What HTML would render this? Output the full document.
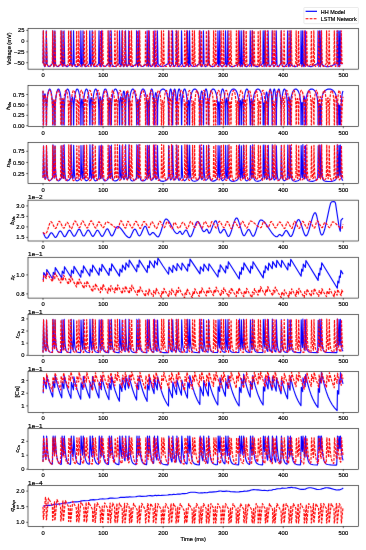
<!DOCTYPE html>
<html><head><meta charset="utf-8"><title>HH vs LSTM</title>
<style>html,body{margin:0;padding:0;background:#fff;width:366px;height:550px;overflow:hidden}svg{display:block}</style>
</head><body>
<svg width="366" height="550" viewBox="0 0 366 550">
<rect width="366" height="550" fill="#fff"/>
<defs><filter id="bl" x="0" y="0" width="366" height="550" filterUnits="userSpaceOnUse"><feConvolveMatrix order="3" kernelMatrix="0.0028 0.0470 0.0028 0.0470 0.8008 0.0470 0.0028 0.0470 0.0028" edgeMode="duplicate"/></filter>
<clipPath id="c0"><rect x="28.00" y="28.30" width="330.30" height="40.85"/></clipPath>
<clipPath id="c1"><rect x="28.00" y="85.60" width="330.30" height="40.85"/></clipPath>
<clipPath id="c2"><rect x="28.00" y="142.60" width="330.30" height="40.85"/></clipPath>
<clipPath id="c3"><rect x="28.00" y="200.15" width="330.30" height="40.85"/></clipPath>
<clipPath id="c4"><rect x="28.00" y="257.25" width="330.30" height="40.85"/></clipPath>
<clipPath id="c5"><rect x="28.00" y="314.40" width="330.30" height="40.85"/></clipPath>
<clipPath id="c6"><rect x="28.00" y="371.45" width="330.30" height="40.85"/></clipPath>
<clipPath id="c7"><rect x="28.00" y="428.45" width="330.30" height="40.85"/></clipPath>
<clipPath id="c8"><rect x="28.00" y="485.50" width="330.30" height="40.85"/></clipPath>
</defs>
<g filter="url(#bl)"><g clip-path="url(#c0)" fill="none" stroke-width="1.15" stroke-linejoin="round">
<path stroke="#0000ff" d="M43.01 63.38l0.30 -32.55l0.72 33.02l0.30 2.00l0.21 0.55l0.21 0.16l0.24 -0.18l0.24 -0.46l0.75 -2.33l0.33 -32.78l0.75 33.07l0.36 1.13l0.51 0.89l0.57 0.51l0.63 0.14l0.66 -0.21l0.72 -0.54l1.98 -2.32l0.36 -32.66l0.66 32.88l0.21 2.51l0.12 0.34l0.15 -0.16l0.51 -3.47l0.36 -32.10l0.69 33.04l0.36 1.08l0.57 0.94l0.63 0.53l0.69 0.15l0.69 -0.19l0.75 -0.49l2.22 -2.30l0.39 -32.75l0.66 33.08l0.21 2.14l0.15 0.48l0.15 -0.02l0.66 -3.02l0.36 -32.66l0.69 32.98l0.36 1.11l0.57 0.96l0.63 0.54l0.69 0.16l0.69 -0.19l0.78 -0.52l2.22 -2.31l0.30 -32.60l0.09 -0.13l0.63 32.69l0.27 2.50l0.18 0.49l0.21 -0.01l0.33 -0.85l0.48 -2.06l0.39 -32.77l0.66 32.91l0.27 0.90l0.42 0.83l0.48 0.60l0.54 0.38l0.54 0.13l0.60 -0.09l1.35 -0.84l2.04 -2.07l0.39 -32.74l0.66 33.23l0.18 1.86l0.12 0.50l0.15 0.14l0.33 -0.95l0.39 -2.45l0.36 -32.34l0.66 32.84l0.51 1.55l0.81 1.06l0.45 0.24l0.45 0.05l1.02 -0.41l0.99 -0.87l1.53 -1.72l0.30 -32.19l0.09 -0.55l0.63 32.57l0.21 2.39l0.18 0.67l0.18 0.10l0.33 -0.80l0.48 -2.19l0.30 -32.50l0.09 -0.24l0.66 32.96l0.48 1.41l0.75 1.03l0.84 0.35l0.93 -0.27l1.08 -0.88l1.65 -1.84l0.39 -32.75l0.66 33.10l0.24 2.02l0.15 0.48l0.18 0.13l0.39 -0.86l0.51 -2.39l0.36 -32.49l0.66 32.81l0.51 1.46l0.84 1.08l0.93 0.39l1.05 -0.24l1.23 -0.87l1.89 -1.88l0.39 -32.75l0.66 33.15l0.18 1.92l0.12 0.52l0.15 0.15l0.30 -0.80l0.42 -2.39l0.36 -32.55l0.66 32.79l0.57 1.47l0.93 1.08l0.51 0.28l0.54 0.12l1.17 -0.23l1.38 -0.86l2.16 -1.91l0.39 -32.74l0.63 32.44l0.21 2.41l0.18 0.71l0.21 0.17l0.24 -0.41l0.27 -0.94l0.36 -1.59l0.03 -0.75l0.36 -32.04l0.66 33.00l0.42 2.15l0.27 0.49l0.30 0.09l0.57 -0.73l0.90 -2.27l0.30 -32.53l0.09 -0.20l0.63 32.67l0.36 2.35l0.27 0.60l0.30 0.11l0.54 -0.77l0.81 -2.26l0.36 -32.70l0.66 32.76l0.48 1.39l0.84 1.11l0.93 0.47l1.02 -0.11l1.41 -0.85l2.19 -2.03l0.30 -32.55l0.09 -0.18l0.63 32.68l0.15 2.18l0.12 0.67l0.15 0.21l0.27 -0.75l0.39 -2.27l0.36 -32.72l0.66 32.74l0.51 1.39l0.87 1.09l0.99 0.49l1.08 -0.08l1.53 -0.84l2.37 -2.04l0.39 -32.75l0.66 33.07l0.15 1.98l0.21 0.69l0.39 -1.53l0.24 -2.45l0.36 -31.76l0.66 32.96l0.27 1.22l0.42 0.98l0.45 0.49l0.51 0.06l0.45 -0.27l0.54 -0.61l1.32 -2.24l0.36 -32.59l0.66 32.86l0.36 2.23l0.24 0.53l0.27 0.11l0.51 -0.73l0.78 -2.23l0.39 -32.77l0.66 32.84l0.27 0.66l0.48 0.71l1.26 1.08l1.38 0.43l1.53 -0.14l2.04 -0.85l3.18 -2.00l0.39 -32.74l0.66 32.99l0.48 2.10l0.33 0.53l0.36 0.11l0.33 -0.22l0.36 -0.49l1.08 -2.25l0.39 -32.77l0.66 32.92l0.51 2.19l0.33 0.51l0.39 0.11l0.33 -0.22l0.39 -0.52l1.11 -2.25l0.30 -32.04l0.09 -0.70l0.66 33.01l0.27 1.21l0.39 0.93l0.42 0.49l0.48 0.09l0.42 -0.23l0.48 -0.52l1.38 -2.23l0.39 -32.75l0.66 32.93l0.33 1.22l0.51 0.98l0.57 0.52l0.63 0.08l0.54 -0.24l0.60 -0.51l1.77 -2.23l0.30 -32.02l0.09 -0.71l0.63 32.52l0.15 2.43l0.24 0.79l0.27 -0.91l0.33 -2.33l0.36 -32.49l0.66 32.79l0.63 1.33l1.08 1.08l1.20 0.50l1.32 -0.03l0.96 -0.30l1.05 -0.52l3.12 -2.11l0.30 -32.20l0.09 -0.53l0.63 32.57l0.36 2.34l0.27 0.63l0.33 0.20l0.33 -0.25l0.39 -0.70l0.78 -2.00l0.03 -0.42l0.36 -32.37l0.66 32.87l0.24 1.18l0.42 1.05l0.45 0.53l0.48 0.10l0.45 -0.23l0.48 -0.50l1.44 -2.26l0.39 -32.74l0.66 32.89l0.57 1.26l0.93 1.03l1.02 0.50l1.14 0.02l0.90 -0.28l0.99 -0.53l2.88 -2.14l0.39 -32.74l0.66 33.26l0.12 1.86l0.15 0.63l0.24 -0.93l0.27 -2.71l0.36 -32.11l0.66 32.89l0.30 1.20l0.48 0.99l0.54 0.54l0.60 0.11l0.51 -0.22l0.60 -0.52l1.71 -2.23l0.39 -32.76l0.66 33.04l0.21 2.08l0.27 0.62l0.30 -0.65l0.48 -2.32l0.39 -32.77l0.66 32.86l0.72 1.31l1.14 1.02l1.29 0.50l1.41 0.00l1.11 -0.30l1.26 -0.56l3.42 -2.14l0.36 -32.68l0.66 32.85l0.15 2.15l0.21 0.74l0.33 -1.13l0.30 -2.48l0.36 -32.14l0.66 33.15l0.18 1.92l0.24 0.68l0.33 -0.81l0.42 -2.40l0.36 -32.54l0.66 32.80l0.36 1.24l0.60 1.03l0.69 0.56l0.75 0.10l0.66 -0.25l0.72 -0.52l2.07 -2.21l0.39 -32.75l0.66 33.11l0.18 1.95l0.24 0.69l0.30 -0.67l0.45 -2.46l0.36 -32.61l0.66 32.77l0.60 1.27l1.05 1.07l1.17 0.54l1.32 0.05l1.02 -0.26l1.17 -0.54l3.33 -2.17l0.39 -32.73l0.63 32.47l0.09 2.26l0.18 1.01l0.42 -3.18l0.36 -32.56l0.66 32.87l0.36 2.17l0.24 0.54l0.27 0.16l0.30 -0.24l0.36 -0.70l0.72 -2.01l0.03 -0.37l0.36 -32.42l0.66 32.88l0.45 2.11l0.33 0.59l0.36 0.16l0.36 -0.21l0.39 -0.54l1.08 -2.31l0.36 -32.69l0.66 32.78l0.48 2.23l0.33 0.57l0.39 0.16l0.36 -0.21l0.39 -0.52l1.11 -2.25l0.39 -32.76l0.66 32.93l0.24 1.16l0.39 0.99l0.42 0.53l0.45 0.13l0.45 -0.21l0.48 -0.50l1.41 -2.26l0.39 -32.76l0.66 32.85l0.33 1.19l0.57 1.04l0.60 0.53l0.69 0.12l0.60 -0.22l0.69 -0.52l1.98 -2.26l0.30 -32.16l0.09 -0.57l0.63 32.56l0.21 2.31l0.18 0.70l0.18 0.17l0.36 -0.70l0.54 -2.26l0.39 -32.78l0.66 32.85l0.63 1.24l1.05 1.03l1.17 0.53l1.29 0.06l1.05 -0.25l1.20 -0.53l3.45 -2.20l0.39 -32.74l0.66 33.47l0.24 2.27l0.42 -3.01l0.30 -32.69l0.09 -0.05l0.63 32.72l0.24 2.26l0.18 0.61l0.18 0.16l0.21 -0.24l0.27 -0.76l0.48 -1.94l0.03 -0.58l0.36 -32.23l0.66 32.81l0.75 1.28l1.26 1.05l1.41 0.53l1.56 0.04l1.23 -0.26l1.41 -0.53l4.02 -2.17l0.39 -32.74l0.66 33.41l0.21 2.33l0.36 -3.17l0.36 -32.57l0.66 33.12l0.18 2.62l0.30 -3.23l0.36 -32.51l0.66 32.77l0.33 0.62l0.63 0.68l0.81 0.61l0.90 0.48l1.86 0.52l2.10 0.01l1.59 -0.29l1.77 -0.54l5.07 -2.15l0.36 -32.71l0.66 32.84l0.21 2.90l0.24 -1.56l0.15 -2.58l0.36 -31.60l0.39 21.96l0.39 13.79l0.24 -3.12l0.36 -32.62l0.66 32.73l2.16 0.00"/>
<path stroke="#ff0000" stroke-dasharray="2.82 1.22" d="M43.01 63.38l0.30 -32.55l0.72 33.02l0.30 2.00l0.21 0.55l0.21 0.16l0.24 -0.18l0.24 -0.46l0.75 -2.33l0.33 -32.78l0.75 33.08l0.33 1.09l0.51 0.93l0.54 0.50l0.60 0.14l0.60 -0.19l0.69 -0.52l1.95 -2.30l0.39 -32.74l0.66 33.32l0.27 2.21l0.15 0.22l0.18 -0.29l0.54 -2.64l0.03 -0.72l0.36 -32.10l0.69 33.08l0.33 1.13l0.45 0.87l0.51 0.51l0.57 0.15l0.57 -0.19l0.63 -0.50l1.86 -2.32l0.39 -32.74l0.66 33.21l0.27 2.14l0.18 0.38l0.18 -0.11l0.72 -2.85l0.39 -32.77l0.66 32.96l0.51 1.75l0.33 0.56l0.39 0.36l0.39 0.10l0.42 -0.12l0.96 -0.91l1.35 -1.98l0.30 -32.29l0.09 -0.44l0.63 32.60l0.15 2.36l0.12 0.64l0.15 0.10l0.27 -1.06l0.30 -2.24l0.36 -32.40l0.66 32.84l0.48 1.64l0.36 0.63l0.42 0.44l0.42 0.18l0.42 -0.02l0.99 -0.64l1.86 -2.31l0.39 -32.75l0.66 33.16l0.21 2.08l0.12 0.42l0.15 0.06l0.30 -0.91l0.39 -2.28l0.36 -32.52l0.66 32.83l0.36 1.51l0.57 1.06l0.63 0.35l0.69 -0.28l0.78 -0.86l1.23 -1.86l0.39 -32.74l0.63 32.35l0.21 2.57l0.18 0.69l0.18 0.11l0.33 -0.78l0.48 -2.18l0.39 -32.76l0.66 32.94l0.45 1.44l0.69 1.02l0.75 0.34l0.87 -0.28l0.96 -0.86l1.53 -1.87l0.30 -32.57l0.09 -0.16l0.63 32.68l0.21 2.38l0.15 0.57l0.15 0.11l0.39 -1.10l0.39 -2.35l0.36 -32.29l0.66 32.87l0.33 1.37l0.51 1.02l0.57 0.45l0.66 -0.10l0.90 -0.85l1.38 -2.01l0.39 -32.75l0.66 33.22l0.18 1.96l0.12 0.47l0.12 0.07l0.39 -1.46l0.27 -2.37l0.36 -31.90l0.66 32.93l0.33 1.33l0.51 1.01l0.54 0.43l0.63 -0.07l0.93 -0.85l1.41 -2.05l0.39 -32.74l0.63 32.43l0.21 2.43l0.18 0.71l0.21 0.17l0.24 -0.41l0.27 -0.94l0.36 -1.59l0.03 -0.73l0.36 -32.07l0.66 32.94l0.24 1.27l0.36 0.97l0.39 0.48l0.45 0.03l0.75 -0.79l1.17 -2.18l0.30 -32.58l0.09 -0.15l0.63 32.69l0.21 2.29l0.15 0.59l0.18 0.17l0.33 -0.71l0.51 -2.32l0.36 -32.71l0.66 32.76l0.27 1.32l0.45 1.05l0.51 0.54l0.60 0.03l0.93 -0.82l1.41 -2.13l0.30 -32.15l0.09 -0.59l0.63 32.56l0.24 2.48l0.18 0.60l0.18 0.10l0.36 -0.79l0.51 -2.16l0.39 -32.78l0.66 32.97l0.24 1.23l0.36 0.96l0.42 0.51l0.45 0.03l0.78 -0.79l1.20 -2.17l0.39 -32.75l0.63 32.41l0.15 2.52l0.24 0.82l0.24 -0.74l0.36 -2.39l0.36 -32.61l0.66 32.80l0.33 1.31l0.54 1.04l0.63 0.53l0.69 0.01l1.08 -0.80l1.68 -2.13l0.39 -32.76l0.66 33.05l0.18 1.99l0.27 0.70l0.30 -0.78l0.42 -2.26l0.36 -32.70l0.66 32.76l0.30 1.27l0.54 1.09l0.60 0.54l0.69 0.03l0.51 -0.28l0.57 -0.53l1.65 -2.14l0.39 -32.75l0.66 33.07l0.30 1.97l0.21 0.55l0.24 0.16l0.48 -0.71l0.72 -2.26l0.39 -32.77l0.66 32.97l0.27 1.26l0.39 0.95l0.42 0.48l0.48 0.06l0.42 -0.26l0.45 -0.52l1.32 -2.20l0.39 -32.74l0.63 32.48l0.21 2.47l0.15 0.61l0.18 0.19l0.33 -0.70l0.51 -2.30l0.30 -32.19l0.09 -0.56l0.66 32.98l0.33 1.24l0.48 0.94l0.54 0.49l0.60 0.05l0.51 -0.26l0.57 -0.54l1.62 -2.21l0.36 -32.70l0.66 32.81l0.18 2.28l0.24 0.65l0.27 -0.77l0.39 -2.33l0.36 -32.64l0.66 32.79l0.27 1.25l0.45 1.03l0.54 0.57l0.57 0.07l0.57 -0.33l0.63 -0.69l1.32 -1.93l0.03 -0.33l0.36 -32.43l0.66 32.98l0.24 2.12l0.15 0.50l0.18 0.14l0.36 -0.73l0.54 -2.28l0.36 -32.73l0.66 32.75l0.21 1.25l0.36 1.04l0.42 0.58l0.45 0.11l0.39 -0.22l0.45 -0.52l1.29 -2.25l0.30 -31.96l0.09 -0.78l0.63 32.50l0.15 2.33l0.27 0.91l0.27 -0.74l0.39 -2.25l0.30 -32.25l0.09 -0.51l0.66 32.95l0.39 1.25l0.57 0.95l0.66 0.51l0.72 0.05l0.63 -0.28l0.69 -0.56l1.89 -2.20l0.36 -32.67l0.66 32.88l0.12 1.99l0.21 0.87l0.21 -0.65l0.33 -2.32l0.30 -31.95l0.09 -0.83l0.66 32.96l0.33 1.23l0.48 0.94l0.54 0.51l0.60 0.08l0.51 -0.24l0.60 -0.53l1.68 -2.21l0.39 -32.75l0.63 32.29l0.15 2.61l0.24 0.84l0.24 -0.73l0.36 -2.31l0.36 -32.70l0.66 32.76l0.24 1.28l0.39 1.02l0.45 0.57l0.48 0.11l0.42 -0.22l0.48 -0.51l1.41 -2.27l0.30 -32.13l0.09 -0.61l0.63 32.55l0.15 2.29l0.27 0.91l0.27 -0.74l0.39 -2.26l0.30 -32.40l0.09 -0.34l0.63 32.63l0.18 1.15l0.42 1.18l0.48 0.64l0.51 0.13l0.45 -0.22l0.48 -0.50l1.44 -2.25l0.39 -32.76l0.66 33.07l0.21 1.97l0.30 0.70l0.21 -0.30l0.24 -0.82l0.39 -1.82l0.03 -0.70l0.36 -32.10l0.66 32.92l0.24 1.19l0.39 1.00l0.42 0.52l0.45 0.10l0.42 -0.22l0.48 -0.53l1.35 -2.23l0.39 -32.75l0.66 33.28l0.18 1.92l0.21 0.54l0.27 -0.71l0.39 -2.24l0.39 -32.79l0.66 32.95l0.27 1.15l0.45 1.01l0.48 0.52l0.54 0.11l0.48 -0.22l0.54 -0.51l1.59 -2.27l0.30 -32.10l0.09 -0.64l0.63 32.54l0.18 2.31l0.30 0.89l0.36 -0.83l0.45 -2.45l0.36 -32.46l0.66 32.84l0.27 1.20l0.45 1.02l0.51 0.56l0.57 0.12l0.51 -0.24l0.57 -0.54l1.59 -2.29l0.36 -32.66l0.66 32.88l0.15 2.13l0.21 0.74l0.33 -1.13l0.30 -2.51l0.36 -32.10l0.66 32.90l0.27 1.16l0.45 1.01l0.51 0.55l0.54 0.11l0.51 -0.23l0.54 -0.50l1.62 -2.25l0.39 -32.76l0.66 33.10l0.15 1.96l0.21 0.69l0.24 -0.68l0.36 -2.28l0.39 -32.79l0.66 32.95l0.27 1.13l0.45 1.00l0.51 0.55l0.54 0.11l0.51 -0.23l0.54 -0.50l1.62 -2.26l0.39 -32.75l0.66 33.17l0.21 1.98l0.27 0.59l0.30 -0.68l0.48 -2.33l0.30 -32.50l0.09 -0.24l0.63 32.66l0.24 1.19l0.51 1.14l0.57 0.61l0.63 0.14l0.54 -0.22l0.60 -0.50l1.77 -2.26l0.39 -32.75l0.66 33.20l0.15 1.89l0.21 0.65l0.24 -0.70l0.36 -2.28l0.30 -32.12l0.09 -0.64l0.63 32.54l0.12 1.13l0.33 1.25l0.36 0.65l0.39 0.17l0.42 -0.27l0.48 -0.71l0.96 -1.99l0.03 -0.40l0.36 -32.38l0.66 33.07l0.15 1.88l0.24 0.80l0.33 -0.95l0.36 -2.51l0.36 -32.28l0.66 32.88l0.24 1.15l0.42 1.04l0.45 0.54l0.48 0.13l0.45 -0.20l0.51 -0.50l1.50 -2.29l0.39 -32.75l0.66 33.25l0.15 1.85l0.21 0.64l0.24 -0.71l0.36 -2.29l0.30 -32.40l0.09 -0.35l0.63 32.63l0.21 1.18l0.48 1.18l0.51 0.60l0.57 0.15l0.51 -0.22l0.57 -0.52l1.62 -2.26l0.39 -32.74l0.63 32.42l0.15 2.51l0.24 0.81l0.24 -0.74l0.36 -2.40l0.36 -32.60l0.66 32.79l0.33 1.23l0.54 1.01l0.63 0.58l0.69 0.12l0.60 -0.22l0.69 -0.52l1.98 -2.26l0.39 -32.74l0.66 33.16l0.27 1.97l0.18 0.50l0.18 0.11l0.39 -0.66l0.63 -2.32l0.39 -32.76l0.66 32.99l0.24 1.11l0.39 0.97l0.42 0.53l0.48 0.14l0.51 -0.25l0.60 -0.66l1.29 -2.06l0.03 -0.30l0.36 -32.47l0.66 33.00l0.18 2.03l0.27 0.71l0.27 -0.65l0.45 -2.36l0.30 -32.63l0.09 -0.11l0.63 32.70l0.21 1.23l0.39 1.07l0.45 0.60l0.48 0.14l0.45 -0.22l0.48 -0.51l1.41 -2.27l0.39 -32.74l0.63 32.47l0.21 2.48l0.15 0.61l0.18 0.19l0.33 -0.70l0.51 -2.30l0.30 -32.17l0.09 -0.58l0.63 32.56l0.21 1.20l0.51 1.20l0.54 0.62l0.63 0.16l0.54 -0.21l0.60 -0.51l1.74 -2.27l0.39 -32.74l0.63 32.36l0.18 2.47l0.30 0.92l0.33 -0.70l0.48 -2.41l0.36 -32.64l0.66 32.80l0.21 1.18l0.36 1.02l0.42 0.59l0.45 0.14l0.42 -0.21l0.45 -0.49l1.35 -2.28l0.39 -32.75l0.66 33.15l0.24 1.98l0.30 0.61l0.21 -0.26l0.24 -0.73l0.48 -2.41l0.36 -32.35l0.66 32.87l0.24 1.18l0.39 0.99l0.42 0.54l0.48 0.16l0.45 -0.19l0.51 -0.51l1.47 -2.30l0.30 -31.93l0.09 -0.81l0.63 32.49l0.24 2.38l0.18 0.64l0.21 0.23l0.42 -0.68l0.63 -2.32l0.30 -32.28l0.09 -0.46l0.63 32.60l0.18 1.17l0.42 1.17l0.48 0.65l0.51 0.16l0.48 -0.21l0.51 -0.51l1.50 -2.32l0.36 -32.70l0.66 32.80l0.24 2.26l0.15 0.52l0.18 0.16l0.36 -0.71l0.54 -2.27l0.39 -32.76l0.66 32.98l0.27 1.17l0.39 0.91l0.45 0.54l0.48 0.14l0.48 -0.20l0.54 -0.52l1.53 -2.28l0.39 -32.75l0.66 33.10l0.30 2.00l0.18 0.48l0.21 0.16l0.24 -0.21l0.24 -0.52l0.69 -2.31l0.36 -32.71l0.66 32.77l0.45 2.17l0.33 0.61l0.39 0.20l0.36 -0.19l0.39 -0.50l1.14 -2.29l0.39 -32.76l0.66 32.73l1.05 0.00"/>
</g></g>
<g filter="url(#bl)"><g clip-path="url(#c1)" fill="none" stroke-width="1.15" stroke-linejoin="round">
<path stroke="#0000ff" d="M43.01 90.76l0.30 34.11l0.24 0.00l0.06 -13.45l0.18 -7.71l0.30 -5.31l0.39 -3.35l0.36 -1.15l0.18 0.00l0.18 0.38l0.33 1.76l0.30 3.16l0.39 10.15l0.09 15.53l0.24 0.00l0.12 -15.78l0.48 -9.56l0.48 -4.33l0.60 -3.28l0.69 -2.09l0.36 -0.54l0.36 -0.20l0.39 0.16l0.36 0.50l0.69 2.00l0.63 3.37l0.48 4.28l0.48 9.25l0.12 16.22l0.24 0.00l0.15 -16.07l0.21 -4.87l0.27 -2.80l0.21 -0.76l0.12 0.02l0.12 0.35l0.39 3.96l0.24 7.95l0.06 12.22l0.24 0.00l0.12 -15.35l0.21 -5.54l0.33 -4.57l0.51 -4.23l0.63 -3.20l0.75 -2.13l0.39 -0.55l0.39 -0.21l0.39 0.13l0.39 0.46l0.75 1.94l0.66 3.15l0.54 4.27l0.36 4.84l0.21 5.43l0.12 15.55l0.24 0.00l0.15 -16.80l0.21 -4.90l0.33 -3.41l0.24 -0.82l0.12 0.02l0.12 0.30l0.45 4.14l0.27 8.12l0.06 13.36l0.24 0.00l0.15 -16.06l0.51 -9.26l0.51 -4.28l0.63 -3.23l0.75 -2.15l0.39 -0.56l0.39 -0.22l0.42 0.14l0.39 0.48l0.75 1.97l0.66 3.20l0.54 4.35l0.33 4.44l0.21 5.19l0.15 16.00l0.24 0.00l0.03 -11.43l0.18 -8.35l0.24 -4.36l0.30 -2.76l0.30 -1.03l0.15 0.02l0.15 0.38l0.27 1.66l0.24 2.88l0.30 8.45l0.09 14.54l0.24 0.00l0.12 -15.44l0.21 -5.32l0.33 -4.47l0.54 -4.37l0.66 -3.25l0.78 -2.15l0.39 -0.55l0.42 -0.24l0.42 0.12l0.42 0.48l0.78 1.93l0.69 3.15l0.57 4.34l0.36 4.62l0.21 4.93l0.15 16.20l0.24 0.00l0.12 -15.93l0.21 -5.39l0.33 -3.65l0.24 -0.93l0.15 0.00l0.12 0.31l0.45 4.23l0.27 8.49l0.06 12.86l0.24 0.00l0.15 -16.46l0.51 -9.15l0.48 -4.07l0.63 -3.28l0.72 -2.07l0.36 -0.52l0.39 -0.22l0.39 0.14l0.39 0.50l0.72 1.96l0.66 3.33l0.51 4.29l0.51 9.31l0.15 16.24l0.24 0.00l0.18 -18.67l0.24 -4.74l0.30 -2.87l0.27 -0.99l0.15 -0.01l0.12 0.27l0.27 1.56l0.24 2.83l0.30 8.65l0.09 13.96l0.24 0.00l0.12 -16.04l0.51 -9.45l0.48 -4.12l0.63 -3.31l0.72 -2.10l0.36 -0.53l0.39 -0.23l0.39 0.13l0.39 0.49l0.72 1.94l0.66 3.30l0.51 4.24l0.33 4.59l0.21 5.55l0.12 15.53l0.24 0.00l0.21 -19.40l0.24 -4.55l0.33 -3.04l0.27 -0.93l0.15 -0.01l0.15 0.34l0.27 1.59l0.24 2.77l0.30 7.88l0.09 15.34l0.24 0.00l0.15 -15.93l0.21 -4.98l0.36 -4.62l0.54 -4.16l0.69 -3.25l0.78 -2.06l0.42 -0.56l0.42 -0.22l0.45 0.14l0.42 0.48l0.81 1.98l0.72 3.26l0.57 4.30l0.36 4.55l0.21 4.81l0.15 16.26l0.24 0.00l0.21 -18.70l0.21 -3.91l0.27 -2.51l0.24 -0.81l0.12 0.02l0.12 0.30l0.45 4.18l0.27 8.26l0.06 13.17l0.24 0.00l0.15 -16.78l0.21 -4.69l0.36 -4.25l0.60 -4.12l0.75 -3.08l0.90 -2.06l0.48 -0.56l0.48 -0.23l0.51 0.11l0.51 0.47l0.48 0.80l0.45 1.11l0.81 3.13l0.63 4.16l0.36 4.05l0.24 5.13l0.15 16.82l0.24 0.00l0.06 -13.53l0.21 -7.52l0.36 -4.94l0.24 -1.48l0.24 -0.49l0.24 0.41l0.21 1.15l0.39 4.91l0.24 8.61l0.06 12.89l0.24 0.00l0.06 -14.12l0.27 -10.08l0.57 -7.12l0.36 -1.90l0.36 -0.62l0.18 0.13l0.18 0.43l0.36 1.83l0.57 6.91l0.27 9.15l0.09 15.37l0.24 0.00l0.09 -16.77l0.45 -10.64l0.36 -3.38l0.39 -1.70l0.21 -0.25l0.21 0.19l0.42 1.76l0.39 3.77l0.30 5.74l0.18 9.07l0.03 12.21l0.24 0.00l0.15 -16.21l0.21 -4.91l0.36 -4.46l0.57 -4.16l0.72 -3.17l0.84 -2.07l0.45 -0.57l0.45 -0.23l0.48 0.12l0.45 0.45l0.87 1.91l0.78 3.23l0.60 4.21l0.36 4.26l0.24 5.40l0.15 16.20l0.24 0.00l0.18 -18.07l0.21 -4.02l0.27 -2.48l0.21 -0.67l0.12 0.04l0.12 0.34l0.42 4.15l0.24 7.38l0.06 13.32l0.24 0.00l0.15 -16.72l0.21 -4.74l0.36 -4.25l0.60 -4.09l0.75 -3.06l0.90 -2.07l0.48 -0.58l0.51 -0.26l0.51 0.08l0.51 0.44l0.48 0.75l0.48 1.13l0.84 3.15l0.63 4.06l0.39 4.36l0.24 5.39l0.12 16.40l0.24 0.00l0.06 -11.63l0.21 -7.82l0.30 -3.91l0.15 -0.86l0.18 -0.31l0.18 0.43l0.18 1.24l0.27 4.03l0.18 7.07l0.06 11.77l0.24 0.00l0.09 -15.74l0.36 -9.52l0.36 -4.32l0.45 -3.28l0.51 -2.09l0.27 -0.57l0.30 -0.24l0.27 0.12l0.27 0.45l0.54 1.98l0.48 3.31l0.36 4.11l0.39 9.77l0.09 16.02l0.24 0.00l0.09 -15.24l0.21 -7.52l0.36 -5.51l0.45 -3.15l0.36 -0.76l0.21 0.19l0.18 0.54l0.36 2.24l0.30 3.51l0.36 9.96l0.09 15.74l0.24 0.00l0.09 -17.73l0.21 -4.85l0.42 -4.05l0.72 -3.57l1.02 -2.82l0.63 -1.11l0.66 -0.81l0.69 -0.54l0.72 -0.27l0.78 0.03l0.75 0.35l0.75 0.69l0.69 0.99l0.63 1.28l0.54 1.50l0.84 3.72l0.45 3.87l0.24 4.65l0.12 18.66l0.24 0.00l0.09 -16.68l0.33 -9.71l0.63 -6.84l0.39 -1.87l0.21 -0.50l0.21 -0.18l0.21 0.13l0.21 0.45l0.42 1.96l0.36 3.10l0.30 4.27l0.30 9.13l0.09 16.73l0.24 0.00l0.09 -16.16l0.36 -10.43l0.63 -6.60l0.39 -1.85l0.42 -0.72l0.24 0.13l0.21 0.44l0.42 1.86l0.39 3.23l0.30 4.14l0.33 10.23l0.09 15.74l0.24 0.00l0.09 -16.10l0.42 -10.27l0.36 -3.96l0.42 -2.88l0.48 -1.87l0.24 -0.48l0.27 -0.22l0.27 0.12l0.27 0.46l0.54 2.06l0.45 3.20l0.36 4.21l0.39 10.44l0.09 15.27l0.24 0.00l0.12 -16.28l0.48 -9.68l0.42 -3.93l0.54 -3.14l0.60 -1.97l0.30 -0.52l0.33 -0.25l0.36 0.11l0.33 0.45l0.66 1.99l0.57 3.22l0.45 4.22l0.48 10.14l0.12 15.65l0.24 0.00l0.18 -17.72l0.21 -3.97l0.27 -2.34l0.21 -0.50l0.21 0.51l0.36 3.72l0.24 7.55l0.06 12.75l0.24 0.00l0.12 -17.80l0.21 -4.59l0.39 -3.94l0.69 -3.73l0.93 -2.86l0.54 -1.08l0.60 -0.86l0.63 -0.58l0.66 -0.30l0.72 0.02l0.69 0.36l0.66 0.68l0.63 1.00l1.08 2.83l0.81 3.90l0.42 3.78l0.24 4.47l0.15 18.69l0.24 0.00l0.06 -14.99l0.18 -7.37l0.33 -5.86l0.45 -3.94l0.42 -1.52l0.24 -0.12l0.21 0.32l0.45 2.14l0.36 3.59l0.45 11.18l0.09 16.58l0.24 0.00l0.12 -16.72l0.36 -8.84l0.36 -4.21l0.45 -3.21l0.51 -2.04l0.27 -0.55l0.27 -0.21l0.27 0.11l0.27 0.44l0.54 1.95l0.48 3.27l0.36 4.05l0.39 9.39l0.12 16.56l0.24 0.00l0.15 -18.50l0.21 -4.01l0.36 -3.69l0.63 -3.72l0.87 -3.01l1.02 -1.96l0.54 -0.56l0.57 -0.29l0.63 0.03l0.60 0.37l0.60 0.72l0.57 1.06l0.99 3.02l0.72 3.93l0.42 4.19l0.24 5.07l0.12 17.36l0.24 0.00l0.12 -14.86l0.39 -7.13l0.18 -0.92l0.12 -0.10l0.09 0.18l0.36 3.31l0.24 7.64l0.06 11.87l0.24 0.00l0.12 -16.21l0.42 -9.17l0.42 -4.27l0.51 -3.18l0.60 -2.12l0.30 -0.55l0.33 -0.26l0.33 0.09l0.33 0.45l0.63 1.95l0.54 3.11l0.45 4.31l0.45 9.37l0.12 16.48l0.24 0.00l0.21 -18.83l0.24 -4.45l0.33 -2.78l0.24 -0.59l0.24 0.46l0.45 4.23l0.27 7.74l0.09 14.21l0.24 0.00l0.09 -18.06l0.21 -4.69l0.36 -3.55l0.69 -3.58l0.99 -2.85l0.60 -1.12l0.66 -0.88l0.69 -0.61l0.72 -0.35l0.81 -0.06l0.81 0.28l0.78 0.61l0.75 0.96l0.66 1.23l0.57 1.46l0.90 3.71l0.45 3.55l0.27 4.64l0.12 19.31l0.24 0.00l0.09 -13.30l0.18 -6.01l0.30 -4.00l0.15 -0.88l0.18 -0.34l0.18 0.40l0.18 1.21l0.27 3.94l0.18 6.72l0.06 12.26l0.24 0.00l0.21 -18.71l0.33 -5.27l0.21 -1.46l0.24 -0.52l0.21 0.47l0.18 1.14l0.33 4.66l0.18 6.53l0.06 13.16l0.24 0.00l0.12 -15.05l0.18 -5.17l0.33 -4.91l0.48 -4.21l0.60 -3.25l0.72 -2.24l0.36 -0.60l0.39 -0.31l0.42 0.05l0.39 0.41l0.75 1.84l0.69 3.25l0.54 4.29l0.36 4.87l0.21 5.48l0.12 15.57l0.24 0.00l0.21 -18.66l0.21 -3.93l0.30 -2.69l0.24 -0.67l0.24 0.46l0.42 4.04l0.27 8.18l0.06 13.27l0.24 0.00l0.12 -17.95l0.21 -4.57l0.33 -3.42l0.66 -3.73l0.90 -2.88l1.14 -2.07l0.63 -0.66l0.66 -0.39l0.75 -0.10l0.75 0.26l0.72 0.60l0.69 0.95l0.63 1.26l0.54 1.49l0.87 3.81l0.45 3.70l0.27 4.70l0.15 19.01l0.24 0.00l0.03 -9.72l0.18 -7.87l0.24 -3.50l0.27 -1.14l0.27 1.13l0.24 3.48l0.18 7.77l0.03 9.84l0.24 0.00l0.09 -15.40l0.24 -8.22l0.51 -6.57l0.33 -1.87l0.36 -0.68l0.33 0.52l0.33 1.69l0.51 6.00l0.30 10.10l0.06 14.43l0.24 0.00l0.09 -16.08l0.27 -9.00l0.63 -7.66l0.42 -2.22l0.42 -0.81l0.24 0.11l0.21 0.44l0.42 1.93l0.36 3.06l0.30 4.20l0.33 10.66l0.06 15.37l0.24 0.00l0.12 -17.35l0.33 -9.09l0.63 -6.69l0.39 -1.88l0.39 -0.74l0.24 0.06l0.21 0.38l0.45 1.91l0.39 3.19l0.30 4.07l0.33 9.79l0.09 16.35l0.24 0.00l0.09 -15.58l0.42 -10.66l0.33 -3.74l0.42 -3.01l0.48 -1.98l0.48 -0.78l0.30 0.06l0.27 0.41l0.54 1.94l0.48 3.32l0.36 4.16l0.39 10.04l0.09 15.82l0.24 0.00l0.12 -15.51l0.18 -5.16l0.33 -4.94l0.45 -4.02l0.54 -3.04l0.63 -2.10l0.33 -0.62l0.33 -0.33l0.39 -0.03l0.39 0.36l0.72 1.78l0.66 3.21l0.51 4.19l0.33 4.50l0.21 5.24l0.15 16.47l0.24 0.00l0.03 -11.08l0.18 -8.63l0.24 -4.40l0.33 -2.95l0.27 -0.87l0.15 0.02l0.15 0.37l0.27 1.65l0.24 2.85l0.30 8.32l0.09 14.72l0.24 0.00l0.09 -17.50l0.15 -3.94l0.30 -3.69l0.54 -3.53l0.75 -2.85l0.96 -2.21l1.14 -1.47l0.81 -0.49l0.84 -0.08l0.84 0.34l0.78 0.73l0.72 1.08l0.66 1.44l0.57 1.75l0.48 2.08l0.57 4.13l0.30 4.87l0.15 19.33l0.24 0.00l0.12 -14.83l0.21 -4.82l0.30 -2.44l0.15 -0.10l0.15 0.59l0.27 3.24l0.18 5.73l0.09 12.62l0.24 0.00l0.06 -14.13l0.27 -8.46l0.27 -3.54l0.30 -1.96l0.15 -0.42l0.18 -0.06l0.33 1.15l0.33 3.14l0.24 4.58l0.15 6.41l0.06 13.29l0.24 0.00l0.12 -19.76l0.24 -4.28l0.42 -3.32l0.87 -3.49l0.57 -1.41l0.69 -1.25l0.75 -0.97l0.84 -0.73l0.87 -0.43l0.87 -0.14l0.87 0.15l0.87 0.44l0.84 0.74l0.75 0.98l0.66 1.20l0.57 1.41l0.87 3.48l0.45 3.64l0.24 4.89l0.09 18.85l0.24 0.00l0.09 -13.10l0.36 -7.39l0.18 -0.88l0.09 -0.02l0.09 0.26l0.33 3.84l0.18 7.59l0.03 9.69l0.24 0.00l0.06 -10.46l0.18 -6.68l0.24 -2.93l0.12 -0.46l0.15 0.20l0.24 2.31l0.18 4.70l0.09 13.32l0.24 0.00l0.09 -20.60l0.24 -4.43l0.48 -3.18l0.45 -1.65l0.60 -1.50l0.72 -1.26l0.84 -1.06l0.99 -0.88l1.11 -0.66l1.17 -0.40l1.23 -0.14l1.23 0.13l1.17 0.40l1.11 0.65l0.99 0.88l0.87 1.09l0.72 1.27l0.60 1.50l0.45 1.66l0.45 2.92l0.24 3.88l0.09 21.39l0.24 0.00l0.12 -13.89l0.36 -6.73l0.18 -0.76l0.18 0.35l0.33 4.15l0.21 16.89l0.24 0.00l0.06 -11.46l0.15 -5.04l0.21 -2.67l0.12 -0.48l0.12 0.14l0.24 2.37l0.15 3.98l0.09 13.15l0.24 0.00l0.51 -14.88l0.54 -9.43l0.69 -6.14l0.42 -1.99l0.48 -1.38"/>
<path stroke="#ff0000" stroke-dasharray="2.82 1.22" d="M43.01 90.76l0.30 34.11l0.24 0.00l0.06 -12.98l0.18 -7.44l0.27 -4.76l0.39 -3.44l0.36 -1.24l0.18 -0.06l0.18 0.30l0.36 1.79l0.30 3.05l0.39 9.80l0.09 14.99l0.24 0.00l0.12 -15.37l0.48 -9.30l0.45 -3.99l0.60 -3.23l0.66 -1.95l0.33 -0.49l0.36 -0.20l0.36 0.15l0.36 0.49l0.66 1.90l0.57 2.97l0.48 4.10l0.33 4.83l0.18 5.08l0.12 15.00l0.24 0.00l0.12 -15.54l0.21 -5.10l0.30 -3.28l0.24 -1.03l0.15 -0.07l0.12 0.24l0.45 3.77l0.27 7.08l0.09 13.93l0.24 0.00l0.12 -15.50l0.45 -9.14l0.45 -4.17l0.54 -3.04l0.63 -1.98l0.33 -0.51l0.33 -0.19l0.33 0.13l0.33 0.46l0.63 1.85l0.57 3.09l0.45 4.05l0.48 9.62l0.12 15.32l0.24 0.00l0.18 -17.84l0.21 -4.25l0.30 -3.04l0.27 -1.12l0.15 -0.09l0.15 0.27l0.27 1.47l0.24 2.69l0.30 8.07l0.09 13.84l0.24 0.00l0.09 -14.94l0.42 -9.77l0.39 -4.04l0.48 -3.05l0.57 -2.02l0.30 -0.52l0.30 -0.19l0.30 0.14l0.30 0.48l0.57 1.91l0.51 3.16l0.39 3.98l0.42 9.37l0.12 15.49l0.24 0.00l0.12 -15.31l0.18 -4.34l0.27 -3.03l0.21 -0.91l0.12 -0.07l0.12 0.25l0.39 3.38l0.27 7.86l0.06 12.18l0.24 0.00l0.12 -15.26l0.45 -9.31l0.45 -4.20l0.54 -3.06l0.63 -1.99l0.33 -0.52l0.33 -0.19l0.36 0.15l0.33 0.48l0.63 1.91l0.57 3.17l0.45 4.16l0.45 9.09l0.12 15.56l0.24 0.00l0.12 -15.22l0.21 -5.29l0.30 -3.36l0.24 -1.07l0.15 -0.10l0.12 0.23l0.45 3.67l0.30 8.47l0.06 12.67l0.24 0.00l0.12 -15.71l0.39 -8.92l0.39 -4.13l0.48 -3.09l0.54 -1.95l0.30 -0.54l0.30 -0.19l0.30 0.15l0.30 0.50l0.57 2.01l0.48 3.08l0.39 4.12l0.39 8.83l0.12 15.84l0.24 0.00l0.06 -12.77l0.15 -5.91l0.21 -3.84l0.30 -2.81l0.27 -0.97l0.15 -0.02l0.12 0.25l0.27 1.48l0.24 2.70l0.30 8.12l0.09 13.77l0.24 0.00l0.12 -15.63l0.45 -8.77l0.45 -4.10l0.57 -3.17l0.66 -2.06l0.36 -0.57l0.36 -0.22l0.36 0.12l0.36 0.47l0.66 1.85l0.60 3.10l0.48 4.13l0.48 8.91l0.15 15.93l0.24 0.00l0.12 -15.98l0.21 -5.04l0.33 -3.56l0.27 -1.06l0.15 -0.03l0.12 0.26l0.27 1.59l0.21 2.48l0.27 7.08l0.09 14.27l0.24 0.00l0.12 -15.84l0.39 -8.73l0.39 -4.10l0.48 -3.09l0.57 -2.05l0.30 -0.53l0.30 -0.20l0.33 0.16l0.30 0.50l0.57 1.96l0.51 3.22l0.39 4.08l0.39 8.63l0.12 15.98l0.24 0.00l0.12 -15.10l0.18 -4.65l0.30 -3.50l0.24 -1.04l0.12 -0.07l0.12 0.22l0.42 3.47l0.27 7.08l0.09 13.58l0.24 0.00l0.09 -14.72l0.42 -9.93l0.39 -4.06l0.48 -3.06l0.57 -2.03l0.30 -0.53l0.30 -0.19l0.30 0.14l0.30 0.47l0.57 1.90l0.51 3.14l0.39 3.96l0.42 9.24l0.12 15.68l0.24 0.00l0.06 -13.03l0.21 -7.28l0.36 -4.77l0.24 -1.43l0.24 -0.48l0.24 0.40l0.21 1.11l0.39 4.73l0.24 8.28l0.06 12.47l0.24 0.00l0.09 -15.48l0.33 -9.24l0.33 -4.19l0.39 -3.00l0.45 -1.93l0.24 -0.50l0.24 -0.17l0.24 0.15l0.24 0.48l0.45 1.88l0.39 2.94l0.33 4.09l0.33 8.64l0.12 16.35l0.24 0.00l0.12 -16.17l0.21 -5.12l0.33 -3.69l0.27 -1.22l0.15 -0.15l0.15 0.22l0.27 1.37l0.24 2.55l0.33 8.92l0.06 13.29l0.24 0.00l0.12 -15.56l0.39 -9.13l0.36 -3.92l0.48 -3.20l0.54 -1.99l0.27 -0.51l0.30 -0.22l0.30 0.14l0.30 0.50l0.54 1.91l0.48 3.09l0.39 4.15l0.39 9.03l0.12 15.71l0.24 0.00l0.06 -13.24l0.21 -7.13l0.36 -4.73l0.24 -1.41l0.24 -0.47l0.24 0.41l0.21 1.12l0.39 4.77l0.24 8.47l0.06 12.22l0.24 0.00l0.09 -15.56l0.33 -9.06l0.33 -4.16l0.39 -3.01l0.48 -2.06l0.24 -0.50l0.24 -0.19l0.24 0.12l0.24 0.44l0.48 1.90l0.42 3.10l0.33 4.03l0.36 9.98l0.09 14.96l0.24 0.00l0.12 -15.13l0.18 -4.43l0.27 -3.07l0.21 -0.94l0.12 -0.08l0.12 0.23l0.42 3.80l0.24 7.15l0.06 12.48l0.24 0.00l0.12 -15.05l0.45 -9.46l0.45 -4.22l0.54 -3.07l0.63 -2.00l0.33 -0.52l0.33 -0.20l0.36 0.15l0.33 0.48l0.63 1.90l0.57 3.15l0.45 4.14l0.45 8.96l0.12 15.75l0.24 0.00l0.15 -16.17l0.21 -4.75l0.30 -3.12l0.24 -0.94l0.15 -0.03l0.12 0.28l0.45 3.98l0.27 7.78l0.06 12.97l0.24 0.00l0.12 -15.01l0.45 -9.59l0.42 -4.02l0.54 -3.16l0.60 -1.97l0.33 -0.55l0.33 -0.22l0.36 0.14l0.33 0.48l0.63 1.94l0.54 3.04l0.45 4.19l0.45 9.21l0.12 15.53l0.24 0.00l0.06 -13.22l0.15 -6.50l0.27 -5.11l0.36 -3.45l0.36 -1.49l0.18 -0.17l0.18 0.19l0.36 1.52l0.33 3.10l0.39 8.78l0.12 16.36l0.24 0.00l0.09 -15.34l0.36 -9.31l0.36 -4.20l0.42 -2.99l0.51 -2.01l0.24 -0.47l0.27 -0.20l0.27 0.14l0.24 0.42l0.51 1.88l0.45 3.09l0.36 4.10l0.36 8.73l0.12 16.18l0.24 0.00l0.18 -17.95l0.21 -4.19l0.30 -3.01l0.27 -1.10l0.15 -0.08l0.15 0.28l0.27 1.50l0.24 2.72l0.30 8.24l0.09 13.60l0.24 0.00l0.09 -14.91l0.42 -9.48l0.42 -4.22l0.51 -3.11l0.60 -2.05l0.30 -0.52l0.33 -0.23l0.33 0.13l0.33 0.49l0.60 1.90l0.54 3.15l0.42 4.06l0.45 9.77l0.09 15.04l0.24 0.00l0.15 -15.67l0.21 -4.82l0.27 -2.86l0.24 -0.96l0.12 -0.03l0.12 0.26l0.42 3.66l0.27 7.73l0.06 12.70l0.24 0.00l0.12 -15.49l0.39 -8.97l0.39 -4.14l0.48 -3.11l0.57 -2.07l0.30 -0.54l0.30 -0.21l0.33 0.15l0.30 0.49l0.57 1.94l0.51 3.19l0.39 4.04l0.42 9.77l0.09 14.94l0.24 0.00l0.09 -13.99l0.21 -6.62l0.39 -4.81l0.21 -1.13l0.24 -0.42l0.24 0.45l0.24 1.40l0.36 4.69l0.21 6.96l0.06 13.49l0.24 0.00l0.12 -16.10l0.33 -8.56l0.33 -4.07l0.42 -3.15l0.48 -1.98l0.24 -0.49l0.24 -0.19l0.27 0.14l0.24 0.44l0.48 1.87l0.45 3.29l0.33 4.03l0.36 10.03l0.09 14.71l0.24 0.00l0.12 -15.43l0.21 -4.96l0.30 -3.11l0.21 -0.80l0.12 -0.05l0.12 0.24l0.42 3.57l0.27 7.43l0.09 13.10l0.24 0.00l0.12 -15.54l0.48 -8.92l0.48 -4.13l0.60 -3.15l0.69 -2.03l0.36 -0.54l0.36 -0.22l0.39 0.11l0.36 0.43l0.72 1.89l0.63 3.10l0.51 4.19l0.51 9.22l0.12 15.59l0.24 0.00l0.12 -14.14l0.18 -4.78l0.27 -3.12l0.21 -0.86l0.12 0.00l0.09 0.22l0.36 3.21l0.24 6.61l0.09 12.87l0.24 0.00l0.09 -14.74l0.45 -9.89l0.42 -4.07l0.51 -3.04l0.60 -2.02l0.30 -0.52l0.33 -0.24l0.33 0.10l0.33 0.45l0.63 1.90l0.54 3.03l0.45 4.21l0.45 9.33l0.12 15.49l0.24 0.00l0.06 -12.05l0.18 -6.33l0.27 -3.77l0.18 -1.15l0.18 -0.38l0.18 0.34l0.15 0.86l0.30 3.90l0.21 8.21l0.03 10.36l0.24 0.00l0.12 -15.84l0.36 -8.84l0.36 -4.12l0.42 -2.96l0.51 -2.03l0.27 -0.54l0.27 -0.20l0.30 0.16l0.27 0.49l0.51 1.93l0.45 3.11l0.36 4.10l0.36 8.74l0.12 15.99l0.24 0.00l0.06 -12.62l0.18 -6.15l0.30 -4.08l0.18 -1.11l0.21 -0.40l0.18 0.37l0.18 1.08l0.30 4.00l0.18 5.88l0.09 13.03l0.24 0.00l0.09 -15.57l0.36 -8.92l0.36 -4.13l0.45 -3.14l0.51 -2.00l0.27 -0.54l0.27 -0.22l0.30 0.12l0.27 0.44l0.54 1.93l0.48 3.22l0.36 4.01l0.39 9.72l0.09 15.07l0.24 0.00l0.06 -12.11l0.24 -8.35l0.36 -4.41l0.21 -1.13l0.21 -0.36l0.24 0.46l0.21 1.23l0.36 4.73l0.21 7.54l0.06 12.38l0.24 0.00l0.09 -15.05l0.36 -9.52l0.33 -3.96l0.42 -3.11l0.48 -2.03l0.27 -0.60l0.27 -0.24l0.27 0.10l0.27 0.44l0.51 1.86l0.45 3.07l0.36 4.07l0.39 10.10l0.09 14.88l0.24 0.00l0.12 -15.21l0.18 -4.59l0.30 -3.47l0.24 -1.03l0.12 -0.06l0.12 0.23l0.42 3.50l0.27 7.19l0.09 13.43l0.24 0.00l0.09 -14.87l0.42 -9.82l0.39 -4.04l0.48 -3.05l0.54 -1.95l0.30 -0.56l0.30 -0.22l0.33 0.14l0.30 0.47l0.57 1.91l0.51 3.15l0.39 3.97l0.42 9.33l0.12 15.55l0.24 0.00l0.12 -15.85l0.21 -5.12l0.33 -3.59l0.27 -1.08l0.15 -0.04l0.12 0.25l0.27 1.57l0.21 2.45l0.30 8.67l0.06 12.72l0.24 0.00l0.12 -15.60l0.39 -8.79l0.39 -4.10l0.51 -3.25l0.57 -2.02l0.30 -0.54l0.30 -0.22l0.33 0.13l0.30 0.45l0.60 1.96l0.51 3.09l0.42 4.24l0.42 9.52l0.09 15.13l0.24 0.00l0.12 -14.35l0.18 -4.87l0.27 -3.28l0.21 -1.04l0.12 -0.14l0.12 0.18l0.42 3.54l0.27 8.16l0.06 11.78l0.24 0.00l0.09 -14.46l0.42 -10.02l0.39 -4.07l0.48 -3.08l0.57 -2.08l0.30 -0.57l0.30 -0.24l0.33 0.10l0.30 0.43l0.60 1.90l0.51 3.02l0.42 4.11l0.45 10.16l0.09 14.79l0.24 0.00l0.12 -14.64l0.18 -4.71l0.27 -3.20l0.21 -1.00l0.12 -0.12l0.12 0.20l0.42 3.63l0.24 6.62l0.09 13.21l0.24 0.00l0.09 -14.82l0.42 -9.75l0.39 -4.03l0.48 -3.06l0.57 -2.06l0.30 -0.56l0.30 -0.23l0.33 0.11l0.30 0.43l0.60 1.92l0.51 3.04l0.42 4.15l0.42 8.99l0.12 15.88l0.24 0.00l0.12 -15.49l0.21 -5.33l0.33 -3.68l0.27 -1.13l0.15 -0.06l0.12 0.23l0.27 1.52l0.21 2.39l0.30 8.22l0.09 13.32l0.24 0.00l0.09 -14.86l0.45 -9.69l0.42 -4.04l0.54 -3.17l0.60 -1.98l0.30 -0.52l0.33 -0.25l0.36 0.10l0.33 0.44l0.63 1.86l0.57 3.15l0.45 4.17l0.45 9.12l0.12 15.66l0.24 0.00l0.06 -11.64l0.18 -6.62l0.27 -3.84l0.18 -1.18l0.18 -0.40l0.18 0.32l0.15 0.84l0.30 3.82l0.18 5.71l0.09 12.98l0.24 0.00l0.06 -14.54l0.30 -9.82l0.63 -7.18l0.42 -2.13l0.21 -0.56l0.24 -0.28l0.24 0.10l0.21 0.40l0.45 1.93l0.39 3.18l0.30 4.09l0.30 8.67l0.09 16.15l0.24 0.00l0.06 -11.44l0.21 -7.61l0.30 -3.92l0.18 -1.05l0.18 -0.35l0.21 0.43l0.18 1.14l0.30 4.17l0.18 6.45l0.06 12.18l0.24 0.00l0.09 -14.60l0.39 -9.95l0.36 -4.04l0.45 -3.10l0.51 -2.01l0.27 -0.56l0.27 -0.25l0.30 0.07l0.27 0.38l0.57 1.89l0.48 3.04l0.39 4.11l0.42 10.23l0.09 14.78l0.24 0.00l0.12 -14.89l0.18 -4.56l0.27 -3.14l0.21 -0.97l0.12 -0.10l0.12 0.22l0.42 3.71l0.24 6.87l0.09 12.86l0.24 0.00l0.09 -15.14l0.39 -9.11l0.39 -4.16l0.48 -3.14l0.57 -2.12l0.30 -0.58l0.30 -0.26l0.30 0.06l0.30 0.38l0.60 1.79l0.54 3.09l0.42 4.03l0.45 9.57l0.12 15.60l0.24 0.00l0.12 -15.15l0.18 -4.42l0.27 -3.07l0.21 -0.94l0.12 -0.08l0.12 0.23l0.42 3.80l0.24 7.17l0.06 12.46l0.24 0.00l0.12 -14.72l0.48 -9.60l0.45 -4.03l0.57 -3.16l0.66 -2.10l0.33 -0.58l0.36 -0.31l0.39 0.03l0.39 0.41l0.72 1.83l0.63 3.05l0.51 4.14l0.51 8.95l0.15 16.09l0.24 0.00l0.06 -13.12l0.15 -6.15l0.24 -4.46l0.30 -2.93l0.33 -1.41l0.18 -0.13l0.15 0.22l0.33 1.62l0.27 2.80l0.36 9.32l0.09 14.24l0.24 0.00l0.09 -15.32l0.36 -9.09l0.33 -3.88l0.45 -3.27l0.48 -2.01l0.27 -0.62l0.27 -0.30l0.30 0.04l0.27 0.37l0.54 1.76l0.48 2.99l0.39 4.07l0.42 9.94l0.09 15.33l0.24 0.00l0.06 -11.43l0.21 -7.84l0.33 -4.32l0.18 -1.05l0.21 -0.40l0.21 0.43l0.18 1.08l0.33 4.41l0.18 6.03l0.09 13.10l0.24 0.00l0.06 -14.04l0.36 -10.16l0.33 -4.03l0.42 -3.18l0.48 -2.12l0.27 -0.65l0.27 -0.31l0.30 0.04l0.27 0.38l0.54 1.83l0.48 3.14l0.36 3.92l0.39 9.10l0.12 16.09l0.24 0.00l0.18 -17.95l0.21 -4.19l0.30 -3.01l0.27 -1.10l0.15 -0.09l0.15 0.28l0.27 1.49l0.24 2.72l0.30 8.24l0.09 13.61l0.24 0.00l0.09 -14.82l0.42 -9.44l0.39 -3.97l0.51 -3.22l0.57 -2.08l0.30 -0.61l0.30 -0.32l0.33 -0.02l0.33 0.32l0.66 1.75l0.57 2.98l0.48 4.28l0.48 9.75l0.12 15.42l0.24 0.00l0.06 -12.64l0.21 -7.16l0.33 -4.29l0.21 -1.22l0.21 -0.40l0.21 0.37l0.21 1.20l0.33 4.22l0.21 6.90l0.06 13.01l0.24 0.00l0.09 -14.48l0.33 -9.59l0.33 -4.23l0.39 -3.08l0.45 -2.10l0.51 -1.00l0.27 -0.01l0.27 0.35l0.51 1.72l0.48 3.19l0.36 4.07l0.39 10.11l0.09 15.04l0.24 0.00l0.06 -12.66l0.24 -8.14l0.39 -4.70l0.21 -1.10l0.24 -0.39l0.24 0.49l0.24 1.44l0.36 4.80l0.21 7.40l0.06 12.86l0.24 0.00l0.09 -14.61l0.36 -9.61l0.33 -3.96l0.42 -3.15l0.48 -2.12l0.51 -1.00l0.30 -0.06l0.27 0.28l0.57 1.69l0.51 3.08l0.39 4.00l0.42 9.48l0.12 15.96l0.24 0.00l0.03 -10.71l0.18 -8.66l0.24 -4.41l0.30 -2.91l0.33 -1.39l0.18 -0.12l0.15 0.23l0.33 1.64l0.27 2.83l0.33 7.90l0.12 15.59l0.24 0.00l0.06 -13.71l0.33 -9.69l0.30 -3.90l0.42 -3.43l0.48 -2.35l0.54 -1.27l0.30 -0.17l0.30 0.20l0.60 1.57l0.54 3.05l0.42 4.11l0.45 10.07l0.09 15.53l0.24 0.00l0.09 -13.60l0.21 -6.88l0.36 -4.67l0.24 -1.39l0.24 -0.45l0.24 0.43l0.21 1.14l0.39 4.84l0.21 6.68l0.09 13.89l0.24 0.00l0.06 -13.42l0.33 -9.80l0.69 -7.16l0.45 -2.36l0.51 -1.44l0.33 -0.35l0.33 0.09l0.33 0.52l0.30 0.88l0.57 2.94l0.45 4.10l0.48 9.94l0.12 16.05l0.24 0.00l0.06 -13.22l0.21 -7.82l0.33 -4.95l0.45 -2.92l0.18 -0.40l0.18 -0.01l0.33 0.99l0.30 2.23l0.27 3.65l0.27 8.48l0.06 13.98l0.24 0.00l0.09 -14.93l0.24 -8.35l0.39 -5.74l0.54 -3.94l0.27 -1.01l0.27 -0.49l0.27 -0.01l0.27 0.47l0.51 2.33l0.45 4.23l0.45 10.05l0.12 17.39l0.24 0.00l0.69 -18.21l0.39 -5.74l0.45 -4.16"/>
</g></g>
<g filter="url(#bl)"><g clip-path="url(#c2)" fill="none" stroke-width="1.15" stroke-linejoin="round">
<path stroke="#0000ff" d="M43.01 177.88l0.51 -32.17l0.33 17.91l0.48 10.69l0.33 2.98l0.45 1.89l0.39 -0.43l0.57 -0.99l0.42 -32.09l0.51 22.64l0.33 6.03l0.42 3.48l0.27 1.11l0.36 0.85l0.45 0.57l0.63 0.41l0.96 -0.46l0.81 -0.63l0.69 -0.81l0.63 -1.07l0.45 -32.97l0.51 23.90l0.33 5.82l0.48 3.66l0.24 -0.43l0.03 -1.16l0.42 -30.86l0.48 22.51l0.33 6.06l0.45 3.65l0.30 1.14l0.39 0.82l0.51 0.56l0.69 0.38l1.05 -0.44l0.90 -0.64l0.78 -0.89l0.66 -1.12l0.45 -32.31l0.51 23.46l0.36 6.06l0.51 3.46l0.39 -0.93l0.42 -32.69l0.45 22.30l0.30 6.22l0.42 4.06l0.30 1.38l0.39 0.97l0.51 0.64l0.72 0.44l1.32 -0.53l1.17 -1.01l0.99 -1.56l0.42 -33.04l0.24 14.63l0.30 10.04l0.39 6.13l0.54 3.28l0.60 -1.02l0.42 -32.45l0.57 24.57l0.39 5.84l0.51 3.04l0.30 0.81l0.39 0.61l0.48 0.42l0.66 0.32l1.14 -0.44l0.93 -0.64l0.81 -0.90l0.69 -1.16l0.42 -32.19l0.33 17.09l0.33 8.97l0.24 3.44l0.33 2.61l0.18 0.76l0.36 -0.66l0.45 -32.37l0.42 21.06l0.27 6.06l0.36 4.11l0.48 2.36l0.69 1.25l0.84 0.57l1.38 -0.67l1.05 -1.00l0.87 -1.41l0.42 -32.82l0.54 24.37l0.39 6.17l0.27 2.09l0.27 1.10l0.51 -0.91l0.42 -32.99l0.27 15.88l0.36 10.63l0.48 5.74l0.30 1.56l0.42 1.14l0.42 0.58l0.54 0.41l0.30 0.14l0.45 -0.17l0.84 -0.45l0.75 -0.63l0.66 -0.82l0.57 -0.99l0.45 -32.01l0.30 16.76l0.42 10.55l0.30 3.37l0.42 2.28l0.60 -0.94l0.45 -32.63l0.24 14.52l0.30 9.86l0.36 5.72l0.51 3.32l0.33 0.94l0.39 0.62l0.54 0.47l0.72 0.32l1.17 -0.44l0.96 -0.64l0.81 -0.89l0.72 -1.20l0.45 -32.08l0.51 23.30l0.36 6.02l0.51 3.43l0.36 -0.66l0.03 -0.49l0.42 -32.23l0.42 21.27l0.30 6.60l0.36 3.89l0.48 2.25l0.33 0.73l0.39 0.50l0.60 0.42l0.84 0.31l1.32 -0.39l0.84 -0.45l0.75 -0.63l0.66 -0.82l0.57 -0.99l0.42 -32.59l0.45 21.69l0.27 5.89l0.33 3.77l0.42 2.25l0.60 -0.99l0.42 -31.99l0.33 16.78l0.33 9.02l0.45 5.32l0.30 1.60l0.39 1.11l0.66 -0.79l0.63 -1.09l0.42 -33.00l0.27 15.91l0.33 10.03l0.45 5.89l0.30 1.76l0.39 1.15l0.72 -0.96l0.42 -0.89l0.42 -32.87l0.42 21.47l0.27 6.18l0.33 3.95l0.42 2.34l0.60 1.35l0.54 0.52l0.78 0.38l0.21 0.06l0.72 -0.21l0.99 -0.46l0.84 -0.65l0.72 -0.85l0.63 -1.09l0.42 -33.02l0.27 15.93l0.36 10.62l0.54 6.12l0.18 0.93l0.33 -0.63l0.42 -33.01l0.30 17.30l0.42 10.89l0.24 2.94l0.33 2.25l0.42 1.40l0.57 0.86l0.63 0.44l0.87 0.31l1.44 -0.44l0.81 -0.45l0.72 -0.62l0.63 -0.78l0.57 -0.99l0.45 -32.50l0.48 22.83l0.33 6.14l0.45 3.70l0.06 0.27l0.24 -0.46l0.42 -32.35l0.45 21.36l0.30 6.39l0.36 3.78l0.48 2.19l0.33 0.71l0.42 0.52l1.23 -1.03l0.99 -1.53l0.45 -32.80l0.27 15.91l0.33 9.89l0.42 5.57l0.30 1.85l0.36 1.19l1.08 -1.63l0.42 -32.16l0.30 15.84l0.33 9.61l0.45 5.65l0.30 1.69l0.36 1.10l0.54 0.81l0.78 0.52l1.20 0.34l1.71 0.18l0.03 -0.17l1.68 -0.40l1.29 -0.69l0.96 -0.95l0.84 -1.36l0.42 -32.17l0.42 20.20l0.24 5.84l0.33 4.34l0.42 2.56l0.57 1.40l0.84 -0.90l0.75 -1.24l0.45 -32.26l0.30 16.88l0.36 9.65l0.51 5.42l0.36 1.55l0.45 0.95l0.90 -0.93l0.78 -1.29l0.42 -32.74l0.51 23.52l0.33 5.92l0.48 3.71l0.42 1.34l0.57 0.81l1.20 -1.04l0.96 -1.51l0.42 -32.31l0.39 19.42l0.45 9.51l0.30 2.75l0.36 1.71l0.51 1.13l0.75 0.68l0.84 -0.46l0.75 -0.63l0.66 -0.82l0.57 -1.00l0.42 -32.73l0.51 23.51l0.33 5.92l0.42 3.42l0.09 0.31l0.21 -0.40l0.03 -0.58l0.42 -32.04l0.45 22.09l0.30 6.16l0.36 3.64l0.45 2.03l0.66 1.17l1.11 0.67l1.83 0.35l0.03 -0.12l1.83 -0.46l1.11 -0.61l0.99 -0.97l0.84 -1.37l0.42 -32.83l0.30 16.88l0.33 9.42l0.45 5.55l0.30 1.67l0.39 1.14l0.63 -0.68l0.66 -1.12l0.45 -32.41l0.42 21.09l0.30 6.55l0.36 3.86l0.48 2.23l0.33 0.73l0.42 0.53l1.23 -1.01l1.02 -1.59l0.42 -32.65l0.27 15.34l0.33 10.13l0.42 5.70l0.27 1.74l0.36 1.28l0.48 0.84l0.72 0.58l1.41 0.44l0.69 -0.11l1.35 -0.41l1.08 -0.65l0.90 -0.93l0.78 -1.28l0.45 -32.16l0.51 23.36l0.39 6.36l0.33 2.48l0.03 0.14l0.09 -0.18l0.45 -32.03l0.33 17.90l0.45 10.29l0.30 2.97l0.36 1.83l0.48 1.15l0.72 0.73l0.81 -0.46l0.72 -0.63l1.17 -1.74l0.45 -32.41l0.30 16.96l0.36 9.69l0.27 3.58l0.36 2.49l0.12 0.47l0.45 -0.81l0.42 -32.47l0.48 22.37l0.30 5.96l0.42 3.90l0.51 1.91l0.33 0.59l0.45 0.46l0.60 0.35l0.78 0.25l2.28 0.27l0.03 -0.18l1.74 -0.42l1.32 -0.73l1.05 -1.11l0.69 -1.32l0.42 -32.81l0.51 23.93l0.33 5.83l0.48 3.66l0.24 -0.43l0.03 -1.12l0.42 -30.95l0.27 15.58l0.36 10.26l0.24 3.47l0.33 2.63l0.18 0.79l0.36 -0.66l0.45 -32.71l0.24 14.55l0.30 9.89l0.36 5.74l0.51 3.33l0.63 1.45l0.48 0.48l0.60 0.33l1.05 -0.45l0.87 -0.64l0.75 -0.86l0.66 -1.12l0.45 -32.21l0.27 15.64l0.36 10.30l0.24 3.48l0.33 2.64l0.18 0.81l0.36 -0.66l0.45 -32.85l0.45 22.23l0.30 6.20l0.36 3.67l0.48 2.13l0.69 1.15l0.51 0.38l0.69 0.29l1.98 0.33l0.03 -0.14l1.86 -0.47l1.08 -0.60l0.99 -0.97l0.84 -1.37l0.42 -32.63l0.45 21.76l0.30 6.34l0.36 3.75l0.15 0.83l0.03 -0.46l0.42 -32.28l0.36 19.35l0.51 10.54l0.36 2.84l0.48 1.70l0.57 -0.70l0.57 -0.99l0.45 -32.51l0.30 17.00l0.36 9.71l0.51 5.45l0.33 1.46l0.45 1.01l0.99 -1.09l0.63 -1.23l0.42 -32.82l0.24 14.68l0.33 10.65l0.39 5.71l0.57 3.17l0.48 0.97l0.90 -0.95l0.75 -1.24l0.42 -32.01l0.48 21.74l0.27 5.60l0.36 3.81l0.48 2.21l0.33 0.72l0.39 0.49l1.20 -1.04l0.96 -1.50l0.45 -32.36l0.36 19.13l0.48 10.08l0.30 2.64l0.42 1.82l0.54 1.03l0.84 0.65l0.96 -0.46l0.81 -0.63l0.72 -0.85l0.63 -1.08l0.42 -32.81l0.51 23.62l0.33 5.90l0.48 3.71l0.18 0.58l0.57 -0.99l0.42 -32.21l0.48 22.02l0.30 6.01l0.39 3.75l0.48 1.96l0.72 1.10l1.23 0.62l2.07 0.31l0.03 -0.16l1.89 -0.48l1.05 -0.58l0.99 -0.97l0.84 -1.36l0.42 -32.20l0.51 22.80l0.36 6.37l0.42 3.01l0.42 -33.09l0.24 14.71l0.30 10.02l0.39 6.12l0.57 3.38l0.66 -1.11l0.45 -32.20l0.48 22.63l0.33 6.09l0.48 3.81l0.57 1.67l0.42 0.55l0.54 0.39l1.68 0.49l2.94 0.19l0.03 -0.23l1.71 -0.41l1.29 -0.70l0.96 -0.96l0.81 -1.32l0.45 -32.08l0.45 21.75l0.33 6.48l0.39 3.42l0.42 -32.32l0.42 21.30l0.30 6.61l0.36 3.90l0.42 -31.70l0.24 14.53l0.30 9.87l0.39 6.04l0.54 3.24l0.33 0.85l0.42 0.60l0.57 0.44l0.81 0.32l2.34 0.32l4.89 0.08l0.03 -0.25l1.74 -0.42l1.32 -0.73l0.99 -1.03l0.75 -1.33l0.42 -32.95l0.45 22.38l0.30 6.24l0.39 3.89l0.45 -32.00l0.42 20.72l0.24 5.77l0.33 4.29l0.42 -31.08l0.33 18.33l0.45 10.53l0.30 3.03l0.36 1.87l0.51 1.22l0.72 0.71"/>
<path stroke="#ff0000" stroke-dasharray="2.82 1.22" d="M43.01 177.88l0.51 -32.17l0.24 14.28l0.30 9.71l0.39 5.94l0.51 3.08l0.18 0.51l0.93 -1.47l0.42 -32.09l0.51 22.64l0.30 5.64l0.42 3.71l0.60 2.01l0.45 0.62l0.60 0.43l0.93 -0.47l0.78 -0.63l0.69 -0.84l0.60 -1.04l0.42 -32.53l0.54 23.98l0.33 5.57l0.48 3.51l0.06 0.14l0.36 -0.66l0.45 -32.02l0.45 21.71l0.30 6.06l0.42 3.96l0.60 2.13l0.42 0.62l0.54 0.42l0.78 -0.41l0.69 -0.55l1.14 -1.53l0.21 -0.40l0.42 -32.33l0.30 16.11l0.30 8.95l0.42 5.75l0.36 2.16l0.09 0.25l0.09 -0.14l0.42 -0.76l0.42 -32.50l0.42 20.67l0.27 6.31l0.33 4.03l0.51 2.69l0.36 0.84l0.45 0.57l0.18 0.12l0.51 -0.31l1.11 -1.06l0.84 -1.37l0.42 -32.88l0.51 23.71l0.33 5.89l0.48 3.70l0.24 -0.39l0.03 -0.73l0.42 -31.74l0.51 23.56l0.36 6.09l0.48 3.40l0.54 1.46l0.84 0.84l0.84 -0.45l0.75 -0.63l0.66 -0.82l0.57 -0.99l0.45 -32.03l0.27 15.57l0.36 10.26l0.24 3.47l0.33 2.63l0.18 0.79l0.36 -0.66l0.45 -32.68l0.48 22.94l0.33 6.17l0.45 3.71l0.48 1.60l0.72 0.92l1.32 -1.04l1.08 -1.65l0.42 -32.42l0.57 24.53l0.39 5.85l0.51 2.95l0.51 -0.90l0.42 -32.59l0.42 20.79l0.24 5.77l0.33 4.29l0.42 2.53l0.60 1.44l0.87 0.74l0.99 -0.51l1.11 -1.03l0.90 -1.45l0.42 -33.03l0.24 14.60l0.30 10.04l0.36 5.82l0.51 3.38l0.45 -0.78l0.03 -0.90l0.42 -31.39l0.24 14.38l0.33 10.43l0.42 5.86l0.27 1.79l0.36 1.31l0.39 0.74l0.48 0.48l0.72 -0.46l0.66 -0.62l1.08 -1.65l0.42 -32.03l0.54 23.31l0.33 5.65l0.48 3.56l0.33 -0.50l0.42 -32.18l0.48 21.97l0.30 6.01l0.36 3.56l0.51 2.15l0.36 0.69l0.48 0.51l0.72 -0.44l0.66 -0.61l1.11 -1.69l0.42 -32.55l0.45 21.64l0.27 5.89l0.36 4.00l0.39 2.02l0.60 -0.99l0.45 -31.97l0.30 16.74l0.39 10.07l0.54 5.21l0.36 1.37l0.51 0.92l1.02 -1.00l0.84 -1.37l0.42 -33.03l0.24 14.61l0.30 10.04l0.39 6.13l0.51 3.18l0.54 -1.02l0.42 -32.94l0.24 14.71l0.30 9.99l0.39 6.11l0.51 3.16l0.42 1.07l0.57 0.66l1.29 -1.05l1.05 -1.62l0.42 -32.80l0.45 21.98l0.27 5.85l0.36 3.97l0.39 2.01l0.60 -1.01l0.42 -32.20l0.33 17.10l0.39 10.00l0.54 5.17l0.39 1.44l0.51 0.88l1.05 -1.00l0.87 -1.40l0.42 -32.52l0.30 16.40l0.30 8.90l0.48 6.20l0.24 1.42l0.24 -0.36l0.45 -32.85l0.33 18.32l0.48 10.92l0.30 2.84l0.36 1.76l0.51 1.16l0.75 0.70l0.84 -0.45l0.75 -0.63l0.66 -0.81l0.57 -0.99l0.45 -32.41l0.27 15.74l0.36 10.36l0.27 3.82l0.33 2.50l0.15 0.66l0.39 -0.83l0.42 -32.88l0.24 14.70l0.30 9.98l0.39 6.10l0.57 3.37l0.48 1.06l0.72 0.68l0.84 -0.47l0.72 -0.62l0.63 -0.79l0.57 -0.99l0.42 -32.10l0.39 19.12l0.45 9.57l0.33 2.96l0.45 1.88l0.96 -1.44l0.42 -32.31l0.36 18.38l0.39 9.32l0.24 2.82l0.33 2.16l0.42 1.36l0.54 0.78l1.14 -1.01l0.96 -1.52l0.42 -32.65l0.30 16.60l0.39 10.56l0.30 3.75l0.36 2.28l0.12 0.36l0.51 -0.91l0.42 -32.81l0.33 18.04l0.45 10.72l0.30 3.08l0.36 1.90l0.51 1.23l0.69 0.67l0.81 -0.48l0.72 -0.66l0.69 -0.93l0.42 -0.86l0.42 -32.92l0.42 21.48l0.27 6.18l0.36 4.19l0.30 1.75l0.30 -0.53l0.03 -0.30l0.42 -32.61l0.33 18.36l0.42 10.12l0.27 3.00l0.36 2.11l0.45 1.25l0.66 0.79l0.72 -0.46l0.66 -0.61l1.08 -1.64l0.45 -32.52l0.30 17.01l0.42 10.71l0.30 3.41l0.42 2.31l0.63 -0.99l0.42 -33.06l0.24 14.74l0.30 10.01l0.36 5.81l0.51 3.37l0.36 1.02l0.42 0.61l1.08 -1.00l0.90 -1.44l0.42 -32.69l0.30 16.67l0.33 9.46l0.54 6.18l0.18 0.94l0.33 -0.55l0.42 -32.84l0.36 19.17l0.48 10.39l0.30 2.71l0.42 1.87l0.57 1.09l0.87 0.65l1.05 -0.50l0.87 -0.70l0.84 -1.09l0.42 -0.95l0.42 -32.73l0.42 21.43l0.27 6.17l0.36 4.18l0.24 1.47l0.18 -0.31l0.42 -32.67l0.36 18.91l0.45 10.07l0.30 2.90l0.36 1.80l0.48 1.13l0.72 0.71l0.81 -0.46l0.72 -0.63l1.17 -1.75l0.42 -32.30l0.30 16.06l0.33 9.57l0.51 6.05l0.21 1.06l0.24 -0.55l0.42 -32.92l0.30 17.28l0.42 10.87l0.24 2.93l0.33 2.25l0.42 1.40l0.60 0.86l1.20 -1.05l0.96 -1.52l0.42 -32.78l0.30 16.81l0.33 9.43l0.54 6.16l0.18 0.93l0.33 -0.56l0.42 -32.93l0.27 15.79l0.33 10.05l0.45 5.90l0.30 1.76l0.39 1.20l0.42 0.67l0.18 0.18l0.09 -0.05l1.17 -1.02l0.96 -1.51l0.45 -32.19l0.24 14.34l0.30 9.74l0.36 5.66l0.51 3.29l0.54 -0.84l0.45 -32.02l0.48 22.51l0.33 6.06l0.45 3.65l0.42 1.45l0.57 0.86l1.14 -1.01l0.96 -1.51l0.42 -32.24l0.30 15.97l0.33 9.58l0.54 6.25l0.21 0.99l0.30 -0.56l0.42 -32.39l0.36 18.50l0.42 9.74l0.27 2.89l0.36 2.04l0.45 1.21l0.66 0.75l0.72 -0.46l0.66 -0.62l1.08 -1.66l0.42 -32.77l0.45 21.95l0.27 5.86l0.36 3.98l0.33 1.79l0.45 -0.76l0.03 -0.64l0.42 -31.92l0.33 18.17l0.45 10.44l0.27 2.78l0.36 1.97l0.45 1.17l0.66 0.75l0.81 -0.50l0.72 -0.69l0.75 -1.08l0.27 -0.71l0.42 -32.71l0.51 23.90l0.33 5.82l0.48 3.66l0.24 -0.43l0.03 -1.17l0.42 -30.85l0.45 21.71l0.30 6.06l0.39 3.78l0.54 2.12l0.36 0.63l0.48 0.47l0.75 -0.46l0.66 -0.60l1.11 -1.67l0.45 -32.42l0.24 14.43l0.33 10.47l0.48 6.37l0.27 1.57l0.24 -0.46l0.42 -32.44l0.36 18.57l0.42 9.72l0.27 2.88l0.36 2.03l0.48 1.26l0.66 0.73l0.75 -0.47l0.66 -0.60l1.11 -1.68l0.42 -32.05l0.33 16.88l0.36 9.54l0.27 3.53l0.36 2.46l0.12 0.43l0.45 -0.81l0.42 -32.98l0.27 15.87l0.33 10.03l0.45 5.89l0.30 1.76l0.39 1.20l0.54 0.79l0.42 0.32l0.12 -0.05l0.78 -0.46l0.69 -0.61l1.17 -1.74l0.45 -32.07l0.24 14.29l0.33 10.37l0.48 6.31l0.27 1.53l0.24 -0.46l0.42 -32.77l0.54 24.30l0.36 5.87l0.48 3.28l0.30 0.95l0.33 0.59l0.90 -0.94l0.75 -1.24l0.45 -32.43l0.27 15.75l0.33 9.79l0.51 6.19l0.24 1.27l0.30 -0.56l0.45 -32.28l0.33 18.03l0.42 9.95l0.27 2.95l0.33 1.95l0.42 1.24l0.60 0.78l1.26 -1.04l1.02 -1.58l0.42 -32.02l0.30 15.62l0.33 9.65l0.48 5.89l0.24 1.29l0.24 -0.46l0.42 -32.93l0.27 15.78l0.36 10.65l0.48 5.75l0.30 1.57l0.42 1.14l0.69 0.82l0.36 -0.18l1.20 -1.03l0.99 -1.55l0.42 -32.54l0.51 23.26l0.33 5.95l0.48 3.73l0.24 -0.36l0.03 -0.39l0.42 -32.43l0.24 14.60l0.30 9.92l0.36 5.76l0.51 3.34l0.60 1.42l0.93 0.77l0.96 -0.45l0.81 -0.63l0.72 -0.85l0.63 -1.08l0.42 -32.37l0.36 18.47l0.42 9.74l0.33 3.34l0.42 2.01l0.75 -1.19l0.42 -32.55l0.33 17.64l0.42 10.36l0.24 2.80l0.33 2.15l0.42 1.35l0.60 0.86l1.23 -1.04l0.99 -1.54l0.45 -32.59l0.27 15.82l0.36 10.42l0.24 3.52l0.33 2.67l0.18 0.84l0.39 -0.72l0.42 -33.06l0.30 17.24l0.36 9.91l0.51 5.56l0.36 1.58l0.48 1.01l0.30 0.32l0.72 -0.54l0.78 -0.89l0.66 -1.13l0.42 -32.63l0.54 24.12l0.39 6.20l0.51 3.21l0.54 -0.91l0.42 -32.80l0.51 23.61l0.36 6.26l0.48 3.49l0.54 1.49l0.78 0.80l0.81 -0.46l0.72 -0.63l1.17 -1.75l0.42 -32.43l0.33 17.46l0.36 9.44l0.27 3.50l0.33 2.29l0.15 0.54l0.42 -0.75l0.45 -32.91l0.24 14.64l0.30 9.94l0.36 5.77l0.51 3.35l0.36 1.01l0.45 0.65l1.11 -1.00l0.93 -1.47l0.42 -32.15l0.36 18.15l0.39 9.36l0.30 3.34l0.42 2.27l0.60 -0.96l0.45 -32.38l0.30 16.94l0.42 10.67l0.27 3.15l0.33 2.08l0.42 1.31l0.60 0.81l1.23 -1.05l0.99 -1.55l0.42 -32.68l0.36 18.93l0.42 9.66l0.33 3.31l0.42 1.99l0.75 -1.22l0.42 -32.87l0.33 18.12l0.42 10.27l0.27 3.04l0.33 2.01l0.42 1.27l0.60 0.82l0.72 -0.50l0.63 -0.64l0.63 -0.91l0.33 -0.72l0.42 -32.89l0.42 21.48l0.30 6.66l0.36 3.93l0.39 1.98l0.60 -1.04l0.42 -32.63l0.33 17.75l0.42 10.34l0.27 3.06l0.33 2.02l0.45 1.34l0.63 0.79l1.29 -1.04l1.05 -1.62l0.42 -32.22l0.36 18.25l0.45 10.20l0.33 3.15l0.45 1.99l0.48 -0.62l0.42 -0.84l0.42 -32.95l0.45 22.38l0.30 6.24l0.42 4.08l0.36 1.58l0.48 0.98l0.90 -0.95l0.75 -1.24l0.45 -31.99l0.24 14.25l0.33 10.34l0.42 5.82l0.57 2.91"/>
</g></g>
<g filter="url(#bl)"><g clip-path="url(#c3)" fill="none" stroke-width="1.15" stroke-linejoin="round">
<path stroke="#0000ff" d="M43.01 232.60l2.07 4.17l0.84 1.01l0.81 0.44l0.57 -0.08l0.57 -0.49l2.37 -4.04l0.54 -0.63l0.51 -0.25l0.51 0.14l0.54 0.51l2.40 3.65l0.57 0.37l0.54 -0.08l0.48 -0.42l0.51 -0.74l2.28 -4.31l0.54 -0.64l0.51 -0.25l0.48 0.13l0.51 0.49l2.43 4.25l0.60 0.66l0.54 0.18l0.57 -0.29l0.60 -0.76l2.55 -4.76l0.57 -0.57l0.51 -0.13l0.54 0.28l0.60 0.73l2.49 4.41l0.54 0.54l0.51 0.16l0.60 -0.31l0.63 -0.83l2.67 -5.20l0.57 -0.62l0.51 -0.16l0.48 0.24l0.54 0.70l2.19 4.67l0.51 0.81l0.48 0.43l0.54 0.02l0.60 -0.50l0.66 -1.00l1.95 -3.62l0.60 -0.68l0.54 -0.20l0.54 0.25l0.60 0.74l2.46 4.63l0.51 0.54l0.48 0.17l0.54 -0.24l0.60 -0.71l2.46 -4.46l0.54 -0.55l0.48 -0.15l0.54 0.25l0.60 0.71l2.52 4.50l0.54 0.54l0.48 0.15l0.60 -0.30l0.66 -0.87l2.76 -5.55l0.57 -0.66l0.54 -0.20l0.54 0.29l0.60 0.84l2.46 5.22l0.51 0.59l0.51 0.17l0.66 -0.41l0.72 -1.08l2.34 -5.39l0.78 -1.50l0.72 -0.85l0.72 -0.21l0.63 0.15l0.69 0.36l1.50 1.34l1.41 1.74l3.21 4.46l1.53 1.76l1.32 1.02l0.63 0.26l0.54 0.07l0.63 -0.26l0.63 -0.76l2.88 -6.09l0.69 -1.00l0.60 -0.38l0.57 0.17l0.63 0.76l1.98 4.11l0.69 1.14l0.63 0.50l0.63 -0.14l0.57 -0.62l0.63 -1.11l2.82 -6.46l0.69 -0.96l0.63 -0.31l0.54 0.31l0.54 0.86l2.19 5.81l0.48 0.98l0.45 0.58l0.39 0.18l0.42 -0.12l1.86 -2.06l0.45 -0.26l0.48 -0.01l0.54 0.26l0.60 0.52l2.64 3.09l0.63 0.43l0.57 0.11l0.48 -0.20l0.48 -0.52l1.05 -2.10l0.99 -2.83l2.28 -7.42l1.08 -2.85l0.93 -1.55l0.42 -0.34l0.45 -0.11l0.57 0.14l0.63 0.40l1.38 1.58l1.38 2.27l3.78 7.10l1.14 1.66l1.05 1.05l0.81 0.40l0.66 -0.07l0.54 -0.42l1.29 -1.52l0.63 -0.28l0.57 0.49l1.20 2.24l0.33 0.27l0.33 0.01l0.81 -0.76l1.95 -3.08l0.48 -0.42l0.45 -0.08l0.48 0.33l0.51 0.79l2.13 4.86l0.48 0.64l0.45 0.21l0.39 -0.12l0.39 -0.36l0.87 -1.49l0.93 -2.36l2.76 -8.15l0.84 -1.77l0.78 -0.92l0.42 -0.14l0.42 0.11l0.45 0.37l0.51 0.69l0.90 1.71l2.25 5.11l0.63 1.12l0.57 0.71l0.57 0.34l0.57 -0.11l0.51 -0.45l1.29 -1.57l0.36 -0.25l0.30 -0.02l0.27 0.19l0.30 0.48l1.17 2.85l0.27 0.34l0.30 0.12l0.33 -0.13l0.39 -0.39l0.84 -1.47l2.67 -7.12l0.87 -1.97l0.78 -1.15l0.36 -0.25l0.33 -0.02l0.51 0.49l0.54 1.24l2.19 8.14l0.48 1.37l0.45 0.82l0.45 0.29l0.51 -0.21l0.60 -0.69l1.71 -2.57l0.54 -0.42l0.48 0.01l0.48 0.42l0.51 0.85l2.22 5.07l0.54 0.71l0.51 0.21l0.48 -0.22l0.48 -0.56l1.05 -2.18l0.99 -2.89l2.28 -7.56l1.08 -2.94l0.90 -1.62l0.42 -0.40l0.42 -0.14l0.39 0.14l0.39 0.39l0.84 1.61l0.96 2.78l2.94 9.97l0.93 2.06l0.42 0.54l0.42 0.25l0.51 -0.09l0.57 -0.55l2.55 -4.65l0.63 -0.75l0.54 -0.21l0.51 0.25l0.57 0.76l1.89 4.11l0.69 1.18l0.69 0.52l0.33 -0.04l0.36 -0.24l0.75 -1.08l0.81 -1.84l2.73 -8.34l1.02 -2.67l0.99 -1.66l0.45 -0.35l0.51 -0.10l0.81 0.18l0.90 0.47l0.93 0.74l0.99 1.03l1.98 2.60l5.49 8.25l1.68 1.94l1.53 1.19l1.05 0.40l0.78 -0.06l0.57 -0.43l1.29 -1.51l0.63 -0.33l0.57 0.22l1.26 1.21l0.36 0.10l0.33 -0.09l0.90 -1.00l2.10 -3.70l0.54 -0.56l0.48 -0.17l0.54 0.23l0.60 0.70l2.55 4.54l0.57 0.52l0.54 0.07l0.42 -0.26l0.45 -0.55l0.96 -1.97l3.06 -9.43l1.02 -2.69l0.87 -1.52l0.42 -0.39l0.39 -0.13l0.42 0.14l0.45 0.46l0.99 1.94l3.03 9.44l0.99 2.60l0.84 1.40l0.39 0.31l0.36 0.08l0.45 -0.20l0.48 -0.54l0.99 -2.02l1.20 -3.66l2.55 -9.44l1.14 -3.71l1.20 -2.74l0.54 -0.68l0.51 -0.23l0.42 0.21l0.39 0.59l0.87 2.54l2.73 12.96l0.90 3.60l0.75 1.89l0.36 0.44l0.39 0.12l0.66 -0.46l0.69 -1.16l0.72 -1.84l0.78 -2.59l1.47 -6.11l3.18 -15.04l1.02 -4.04l0.45 -1.05l0.54 -0.67l0.69 -0.36l1.05 -0.16l1.02 0.05l0.63 0.29l0.42 0.58l0.36 1.11l3.21 21.41l0.81 4.07l0.72 2.17l0.63 -10.77l2.07 -2.47"/>
<path stroke="#ff0000" stroke-dasharray="2.82 1.22" d="M43.01 232.31l0.93 0.99l0.81 0.46l0.90 0.10l0.57 -0.45l1.02 -2.25l2.34 -7.40l0.57 -1.26l0.54 -0.68l0.54 -0.06l0.60 0.56l0.66 1.14l1.89 4.00l0.60 0.79l0.51 0.22l0.45 -0.30l0.48 -0.84l1.98 -5.22l0.42 -0.63l0.39 -0.20l0.51 0.24l0.57 0.72l2.25 4.57l0.51 0.79l0.45 0.44l0.48 0.08l0.45 -0.47l1.80 -4.54l0.42 -0.67l0.39 -0.19l0.48 0.27l0.54 0.75l2.28 4.72l0.48 0.59l0.42 0.19l0.39 -0.21l0.42 -0.68l2.01 -5.69l0.48 -0.88l0.45 -0.29l0.45 0.19l0.51 0.61l2.37 4.79l0.57 0.78l0.51 0.28l0.39 -0.24l0.39 -0.74l1.74 -5.19l0.42 -0.54l0.45 0.04l0.48 0.46l0.51 0.81l2.28 4.80l0.57 0.74l0.51 0.24l0.42 -0.21l0.45 -0.64l2.16 -5.26l0.51 -0.81l0.48 -0.28l0.48 0.22l0.51 0.64l2.43 5.19l0.60 0.86l0.51 0.29l0.36 -0.17l0.39 -0.62l1.56 -4.28l0.36 -0.72l0.33 -0.36l0.48 0.02l0.57 0.54l2.40 4.39l0.57 0.69l0.48 0.23l0.39 -0.21l0.42 -0.68l1.74 -4.42l0.36 -0.47l0.42 -0.14l1.32 0.29l1.47 0.76l4.62 3.63l1.53 1.02l1.35 0.58l1.11 0.13l0.36 -0.33l0.36 -0.81l1.59 -5.45l0.33 -0.63l0.33 -0.20l0.48 0.24l0.54 0.70l2.40 5.09l0.57 0.88l0.51 0.42l0.36 -0.10l0.30 -0.61l1.20 -5.04l0.51 -1.13l0.42 0.05l0.51 0.58l2.37 5.04l0.57 0.78l0.48 0.23l0.45 -0.27l0.48 -0.78l1.98 -4.89l0.42 -0.60l0.39 -0.19l0.45 0.21l0.51 0.65l2.37 5.16l0.60 0.87l0.51 0.28l0.45 -0.25l0.48 -0.81l1.98 -5.13l0.39 -0.56l0.39 -0.18l0.51 0.18l0.60 0.56l2.76 4.34l0.66 0.71l0.60 0.28l0.36 -0.20l0.33 -0.63l1.50 -4.60l0.36 -0.43l0.39 0.05l0.48 0.45l0.51 0.79l2.28 4.64l0.57 0.71l0.48 0.22l0.39 -0.22l0.42 -0.73l1.71 -5.01l0.39 -0.83l0.36 -0.42l0.48 0.01l0.57 0.57l2.40 4.72l0.57 0.76l0.48 0.26l0.39 -0.20l0.42 -0.71l1.74 -4.69l0.39 -0.54l0.39 -0.09l0.51 0.37l0.60 0.90l2.43 5.16l0.54 0.70l0.45 0.24l0.30 -0.18l0.27 -0.55l1.23 -4.60l0.27 -0.71l0.27 -0.35l0.42 0.05l0.54 0.54l2.40 4.47l0.60 0.72l0.51 0.21l0.42 -0.18l0.48 -0.54l2.31 -4.50l0.54 -0.70l0.51 -0.25l0.51 0.24l0.54 0.73l2.31 4.78l0.51 0.57l0.45 0.09l0.39 -0.37l0.42 -0.83l1.83 -5.17l0.39 -0.64l0.39 -0.23l0.42 0.17l0.48 0.54l2.25 4.34l0.54 0.72l0.48 0.28l0.33 -0.14l0.36 -0.60l1.56 -4.40l0.36 -0.42l0.42 0.05l0.45 0.43l0.48 0.74l2.10 4.22l0.51 0.64l0.45 0.23l0.36 -0.24l0.36 -0.76l1.50 -5.06l0.30 -0.56l0.33 -0.19l0.45 0.20l0.51 0.57l2.46 4.52l0.60 0.74l0.51 0.26l0.33 -0.20l0.33 -0.66l1.50 -4.86l0.36 -0.46l0.39 0.05l0.45 0.44l0.48 0.77l2.10 4.39l0.54 0.70l0.45 0.22l0.36 -0.21l0.36 -0.62l1.59 -4.77l0.36 -0.78l0.33 -0.39l0.48 0.02l0.60 0.60l2.49 4.82l0.60 0.78l0.51 0.27l0.42 -0.23l0.42 -0.71l1.80 -4.70l0.39 -0.51l0.36 -0.09l0.48 0.37l0.51 0.82l2.22 5.07l0.48 0.66l0.42 0.23l0.39 -0.22l0.39 -0.69l1.59 -4.74l0.36 -0.79l0.33 -0.42l0.45 -0.04l0.57 0.52l2.40 4.54l0.57 0.71l0.48 0.21l0.39 -0.25l0.42 -0.75l1.74 -4.79l0.36 -0.56l0.33 -0.18l0.45 0.19l0.51 0.60l2.46 4.96l0.60 0.80l0.51 0.26l0.45 -0.25l0.48 -0.81l1.98 -5.13l0.42 -0.59l0.42 -0.17l1.02 0.20l1.17 0.60l1.35 1.03l4.14 3.66l1.32 0.77l1.17 0.30l0.39 -0.12l0.36 -0.51l1.53 -4.40l0.36 -0.71l0.33 -0.28l0.42 0.10l0.51 0.52l2.31 4.27l0.57 0.70l0.48 0.22l0.39 -0.20l0.42 -0.66l1.83 -4.48l0.42 -0.48l0.45 0.00l0.45 0.40l0.48 0.73l2.10 4.28l0.51 0.64l0.48 0.22l0.51 -0.23l0.54 -0.69l2.31 -4.44l0.51 -0.52l0.48 -0.09l0.54 0.32l0.63 0.80l2.55 4.62l0.54 0.60l0.48 0.23l0.33 -0.16l0.33 -0.58l1.50 -4.90l0.36 -0.73l0.33 -0.23l0.42 0.17l0.51 0.59l2.37 4.69l0.57 0.77l0.48 0.27l0.33 -0.19l0.30 -0.59l1.44 -5.18l0.36 -0.81l0.33 -0.24l0.45 0.21l0.51 0.62l2.46 5.01l0.60 0.83l0.54 0.31l0.39 -0.17l0.42 -0.64l1.89 -5.14l0.45 -0.81l0.42 -0.28l0.48 0.20l0.51 0.61l2.40 4.92l0.57 0.82l0.51 0.33l0.30 -0.14l0.30 -0.58l1.35 -5.14l0.33 -0.78l0.30 -0.24l0.45 0.18l0.54 0.61l2.49 4.77l0.60 0.80l0.54 0.32l0.33 -0.15l0.33 -0.61l1.50 -5.28l0.36 -0.81l0.33 -0.27l0.48 0.17l0.57 0.62l2.61 4.87l0.63 0.81l0.54 0.32l0.36 -0.11l0.33 -0.45l1.53 -3.93l0.36 -0.62l0.36 -0.24l0.48 0.14l0.57 0.51l2.49 3.81l0.60 0.63l0.51 0.25l0.36 -0.12l0.36 -0.50l1.59 -4.26l0.36 -0.64l0.36 -0.27l0.96 0.16l1.14 0.65l1.20 1.03l3.42 3.42l1.05 0.76l0.96 0.40l0.51 0.01l0.27 -0.38l0.87 -3.63"/>
</g></g>
<g filter="url(#bl)"><g clip-path="url(#c4)" fill="none" stroke-width="1.15" stroke-linejoin="round">
<path stroke="#0000ff" d="M43.01 279.21l0.27 0.43l0.03 -0.18l0.48 -6.84l2.49 4.01l0.51 -7.02l6.01 9.62l0.48 -7.02l1.50 2.41l0.51 -7.02l6.49 10.43l0.51 -7.02l1.71 2.71l0.48 -7.02l6.52 10.48l0.48 -7.05l2.01 3.22l0.51 -7.02l6.79 10.92l0.51 -7.02l1.68 2.70l0.03 -0.11l0.48 -6.90l6.31 10.14l0.48 -7.00l1.92 3.03l0.48 -7.04l6.31 10.12l0.51 -7.02l2.01 3.13l0.48 -6.95l7.00 11.01l0.51 -7.04l1.71 2.59l0.48 -6.99l7.81 12.24l0.48 -6.97l2.01 3.04l0.51 -7.04l3.00 4.71l0.48 -7.06l2.82 4.38l0.48 -7.06l7.42 11.63l0.48 -7.06l1.62 2.51l0.48 -7.07l7.90 12.38l0.51 -7.04l1.50 2.35l0.51 -7.04l4.47 7.01l0.51 -7.04l2.70 4.24l0.51 -7.04l5.10 8.00l5.59 8.29l0.51 -7.08l3.48 5.17l0.51 -7.08l3.60 5.35l0.51 -7.08l4.38 6.51l0.51 -7.08l5.49 8.15l0.48 -7.04l1.53 2.08l0.48 -7.01l9.91 14.71l0.48 -7.06l3.00 4.39l0.51 -7.08l4.50 6.68l0.51 -7.08l8.98 13.32l0.51 -7.08l1.29 1.92l0.51 -7.08l5.28 8.11l0.51 -7.03l1.80 2.86l0.51 -7.03l10.90 17.28l0.48 -7.04l1.50 2.38l0.51 -7.03l1.71 2.62l0.48 -6.98l6.40 10.16l0.51 -7.03l1.71 2.65l0.48 -7.01l10.21 16.22l0.48 -6.97l1.23 1.77l0.48 -6.99l2.79 4.44l0.51 -7.03l3.51 5.55l0.48 -7.04l3.60 5.72l0.51 -7.03l4.38 6.96l0.51 -7.03l6.01 9.74l0.48 -6.99l2.01 3.22l0.51 -7.00l10.39 16.94l0.51 -7.00l1.20 1.96l0.48 -7.05l2.10 3.42l0.51 -7.00l12.19 19.88l0.51 -7.00l1.11 1.73l0.48 -6.97l1.02 1.56l0.48 -6.95l15.61 25.45l0.48 -7.04l1.11 1.81l0.48 -6.93l0.93 1.33l0.48 -6.99l2.13 3.48l0.27 0.27"/>
<path stroke="#ff0000" stroke-dasharray="2.82 1.22" d="M43.01 281.10l0.27 0.26l0.48 -6.10l2.52 3.37l0.48 -5.93l2.85 4.64l2.97 4.34l0.48 -5.89l1.71 2.96l0.48 -5.76l2.70 5.23l2.82 4.79l0.48 -5.80l1.92 3.63l0.48 -5.70l2.40 4.94l2.52 4.54l0.48 -5.75l1.50 2.99l0.48 -5.65l2.67 5.69l2.85 5.19l0.48 -5.76l1.71 3.37l0.48 -5.67l2.34 4.93l2.49 4.54l0.48 -5.75l1.92 3.78l0.48 -5.67l2.82 5.80l3.00 5.16l0.48 -5.81l1.80 3.34l0.48 -5.72l2.40 4.77l2.52 4.29l0.48 -5.81l1.62 3.02l0.48 -5.71l2.40 4.80l2.52 4.31l0.48 -5.81l2.01 3.71l0.48 -5.73l1.92 3.82l2.01 3.52l0.48 -5.78l1.89 3.61l0.48 -5.70l2.31 4.67l2.43 4.21l0.48 -5.79l2.01 3.75l0.48 -5.73l1.98 3.95l2.04 3.57l0.48 -5.78l1.50 2.89l0.48 -5.68l2.67 5.42l2.85 4.83l0.48 -5.82l1.71 3.12l0.48 -5.74l2.64 5.11l2.79 4.52l0.48 -5.85l2.52 4.33l0.48 -5.80l2.10 3.86l2.22 3.54l0.48 -5.85l1.92 3.37l0.48 -5.77l2.52 4.72l2.67 4.21l0.48 -5.87l1.62 2.82l0.48 -5.77l2.40 4.51l2.52 4.02l0.48 -5.86l2.01 3.49l0.48 -5.78l2.01 3.78l2.13 3.49l0.48 -5.83l1.62 2.94l0.48 -5.74l2.94 5.62l3.15 4.92l0.48 -5.89l1.44 2.47l0.48 -5.78l2.58 4.78l2.73 4.24l0.48 -5.88l1.50 2.58l0.48 -5.78l2.16 4.07l2.28 3.71l0.48 -5.84l1.62 2.91l0.48 -5.75l2.19 4.25l2.31 3.86l0.48 -5.82l1.92 3.48l0.48 -5.75l2.10 4.08l2.22 3.74l0.48 -5.81l1.62 3.00l0.48 -5.72l2.40 4.73l2.52 4.22l0.48 -5.83l1.80 3.27l0.48 -5.74l2.43 4.69l2.58 4.21l0.48 -5.84l1.53 2.74l0.48 -5.75l2.43 4.68l2.58 4.21l0.48 -5.85l1.53 2.74l0.48 -5.75l2.43 4.68l2.58 4.20l0.48 -5.85l1.83 3.24l0.48 -5.76l2.61 4.91l2.79 4.39l0.48 -5.88l1.53 2.65l0.48 -5.77l1.77 3.39l1.83 3.11l0.48 -5.80l1.62 3.05l0.48 -5.71l2.25 4.52l2.37 4.08l0.48 -5.80l1.53 2.87l0.48 -5.71l2.43 4.86l2.58 4.36l0.48 -5.82l1.50 2.77l0.48 -5.72l2.91 5.65l3.12 4.95l0.48 -5.88l2.22 3.76l0.48 -5.81l2.19 3.99l2.31 3.62l0.48 -5.87l1.74 3.02l0.48 -5.78l2.16 4.07l2.25 3.66l0.48 -5.84l1.92 3.42l0.48 -5.76l2.58 4.87l2.73 4.32l0.48 -5.87l1.80 3.11l0.48 -5.78l2.07 3.89l2.16 3.52l0.48 -5.83l2.01 3.59l0.48 -5.76l2.22 4.23l2.31 3.79l0.48 -5.83l2.22 3.93l0.48 -5.77l2.25 4.24l2.34 3.78l0.48 -5.85l2.04 3.59l0.48 -5.77l2.28 4.29l2.43 3.91l0.48 -5.85l2.40 4.15l0.48 -5.80l1.77 3.31l1.86 3.08l0.48 -5.82l1.32 2.46"/>
</g></g>
<g filter="url(#bl)"><g clip-path="url(#c5)" fill="none" stroke-width="1.15" stroke-linejoin="round">
<path stroke="#0000ff" d="M43.01 352.63l0.54 -32.74l0.30 12.38l0.36 8.48l0.45 5.47l0.57 3.18l0.39 1.09l0.45 0.74l0.48 -31.20l0.57 19.10l0.36 5.38l0.45 3.56l0.57 2.15l0.39 0.77l0.45 0.54l0.57 0.41l0.75 0.30l1.23 0.23l0.66 -0.01l0.48 -33.18l0.60 20.17l0.39 5.56l0.54 3.75l0.48 -28.84l0.54 18.56l0.36 5.68l0.42 3.56l0.54 2.26l0.72 1.33l0.48 0.44l0.60 0.33l1.74 0.39l1.08 0.08l0.51 -32.84l0.30 12.45l0.36 8.53l0.45 5.50l0.63 3.41l0.45 -30.31l0.57 19.57l0.39 5.84l0.48 3.63l0.60 2.08l0.39 0.70l0.48 0.52l0.60 0.38l0.75 0.27l2.25 0.28l0.48 -33.35l0.30 12.58l0.33 8.16l0.42 5.61l0.54 3.44l0.45 1.39l0.45 -30.64l0.57 18.87l0.33 5.26l0.42 3.69l0.54 2.34l0.72 1.37l0.48 0.45l0.60 0.34l1.68 0.39l1.47 0.11l0.48 -32.59l0.66 20.31l0.42 5.44l0.57 3.46l0.12 0.43l0.45 -29.94l0.57 19.32l0.36 5.44l0.48 3.76l0.60 2.15l0.39 0.72l0.45 0.51l0.57 0.39l0.72 0.28l2.16 0.30l0.48 -33.13l0.33 13.23l0.39 8.80l0.51 5.56l0.33 1.85l0.39 1.31l0.45 -30.91l0.54 18.88l0.33 5.46l0.42 3.83l0.51 2.32l0.72 1.46l0.48 0.48l0.57 0.34l1.65 0.42l1.08 0.10l0.51 -32.63l0.33 13.28l0.42 8.99l0.51 5.15l0.33 1.72l0.42 1.30l0.48 -30.85l0.36 14.35l0.42 8.66l0.57 5.34l0.36 1.63l0.48 1.23l0.66 0.86l0.90 0.54l1.29 0.31l1.95 0.15l0.51 -32.71l0.30 12.38l0.36 8.49l0.45 5.48l0.63 3.39l0.45 -30.16l0.60 20.06l0.42 5.83l0.54 3.56l0.69 1.92l0.45 0.61l0.57 0.45l0.72 0.32l0.93 0.21l2.88 0.19l0.48 -32.98l0.57 19.03l0.36 5.60l0.45 3.69l0.66 2.44l0.48 -30.41l0.42 15.75l0.54 9.11l0.33 2.71l0.42 1.98l0.54 1.33l0.75 0.87l0.48 -32.46l0.42 16.04l0.51 9.04l0.33 2.91l0.39 2.00l0.51 1.41l0.66 0.90l0.48 -32.31l0.60 20.20l0.39 5.57l0.54 3.75l0.66 1.96l0.45 0.65l0.54 0.46l0.69 0.33l0.87 0.22l2.67 0.21l0.48 -33.36l0.30 12.55l0.33 8.16l0.45 5.89l0.57 3.40l0.45 -30.06l0.51 18.35l0.33 5.72l0.42 4.00l0.51 2.42l0.66 1.43l0.45 0.50l0.54 0.36l1.50 0.45l2.97 0.19l0.51 -33.01l0.57 19.38l0.39 5.79l0.48 3.60l0.12 0.56l0.42 -29.07l0.54 18.12l0.30 5.15l0.39 3.86l0.45 2.35l0.63 1.58l0.90 0.94l1.32 0.47l0.48 -32.92l0.30 12.58l0.33 8.08l0.42 5.56l0.54 3.41l0.51 1.51l0.63 0.87l0.45 -31.40l0.57 18.53l0.33 5.29l0.39 3.52l0.48 2.26l0.66 1.46l0.96 0.86l1.44 0.45l2.04 0.18l3.84 0.05l0.48 -32.63l0.48 16.52l0.60 9.21l0.39 2.66l0.48 1.75l0.66 1.16l0.90 0.69l0.51 -32.25l0.45 16.62l0.60 9.30l0.39 2.69l0.51 1.84l0.69 1.16l0.96 0.68l0.48 -32.56l0.51 17.91l0.30 5.37l0.39 4.01l0.45 2.44l0.63 1.63l0.84 0.92l1.29 0.53l0.48 -32.43l0.57 18.71l0.36 5.63l0.42 3.53l0.54 2.24l0.75 1.36l0.48 0.43l0.63 0.33l1.77 0.38l0.48 -32.99l0.63 20.38l0.39 5.36l0.54 3.62l0.45 -29.34l0.30 12.53l0.36 8.58l0.45 5.54l0.63 3.43l0.36 0.95l0.45 0.72l0.54 0.50l0.72 0.37l2.04 0.38l4.05 0.11l0.48 -33.22l0.42 15.81l0.54 9.40l0.36 2.98l0.42 1.94l0.54 1.31l0.75 0.86l0.48 -32.06l0.51 18.07l0.30 5.24l0.39 3.92l0.45 2.39l0.63 1.60l0.87 0.93l1.35 0.52l0.48 -32.77l0.33 13.01l0.33 7.82l0.45 5.65l0.57 3.28l0.33 0.98l0.42 0.78l0.51 0.55l0.66 0.40l1.89 0.44l3.51 0.14l0.51 -32.80l0.54 18.62l0.36 5.69l0.45 3.75l0.45 -27.98l0.54 18.57l0.36 5.68l0.42 3.56l0.51 2.17l0.72 1.38l1.05 0.78l1.68 0.41l0.51 -32.81l0.30 12.47l0.39 9.05l0.48 5.49l0.66 3.21l0.45 -30.14l0.36 13.68l0.36 7.96l0.48 5.38l0.63 3.07l0.39 0.92l0.45 0.64l0.60 0.49l0.78 0.34l2.22 0.33l4.62 0.08l0.51 -33.38l0.60 20.19l0.42 5.87l0.54 3.58l0.45 -29.00l0.30 12.38l0.36 8.48l0.45 5.48l0.63 3.39l0.45 -30.16l0.57 19.46l0.39 5.81l0.48 3.61l0.60 2.07l0.39 0.70l0.45 0.50l0.57 0.38l0.75 0.28l2.19 0.29l0.51 -32.76l0.30 12.42l0.36 8.51l0.45 5.49l0.63 3.40l0.45 -30.24l0.30 12.59l0.36 8.62l0.48 5.81l0.63 3.29l0.36 0.92l0.45 0.70l0.57 0.51l0.72 0.35l2.10 0.37l4.23 0.10l0.48 -33.04l0.51 17.79l0.33 5.79l0.39 3.83l0.48 -27.56l0.39 15.23l0.54 9.74l0.33 2.88l0.39 1.98l0.51 1.40l0.66 0.89l0.48 -31.96l0.39 15.15l0.51 9.35l0.30 2.79l0.39 2.16l0.48 1.44l0.66 0.98l0.78 0.55l0.48 -32.76l0.30 12.64l0.33 8.12l0.42 5.59l0.57 3.54l0.36 1.13l0.42 0.80l0.54 0.59l0.66 0.40l0.51 -32.07l0.51 17.88l0.30 5.19l0.39 3.88l0.45 2.37l0.60 1.54l0.84 0.93l1.29 0.54l0.51 -32.62l0.57 19.32l0.36 5.44l0.45 3.59l0.57 2.17l0.36 0.73l0.45 0.57l0.54 0.41l0.69 0.30l2.01 0.33l0.48 -33.10l0.33 13.22l0.39 8.80l0.51 5.56l0.33 1.85l0.39 1.31l0.09 0.22l0.03 -1.12l0.42 -29.30l0.36 13.35l0.36 8.00l0.45 5.18l0.63 3.22l0.36 0.90l0.45 0.69l0.57 0.50l0.75 0.36l2.13 0.36l4.35 0.10l0.48 -32.66l0.57 18.58l0.33 5.29l0.39 3.52l0.42 -28.20l0.33 13.59l0.42 9.21l0.54 5.47l0.33 1.68l0.42 1.27l0.09 0.19l0.03 -0.89l0.45 -29.91l0.30 12.42l0.39 9.01l0.51 5.69l0.30 1.75l0.39 1.39l0.39 0.83l0.51 0.64l0.66 0.46l0.84 0.30l2.43 0.28l5.46 0.06l0.48 -32.34l0.54 17.53l0.30 5.21l0.36 3.67l0.42 -27.28l0.45 16.80l0.63 9.67l0.42 -26.40l0.33 13.47l0.42 9.11l0.54 5.41l0.36 1.78l0.42 1.21l0.45 0.75l0.60 0.56l0.75 0.37l1.02 0.25l2.88 0.20l7.81 0.03l0.51 -33.43l0.51 18.34l0.30 5.32l0.39 3.97l0.39 -27.16l0.45 16.23l0.57 9.31l0.39 -25.86l0.39 15.27l0.48 9.05l0.30 2.95l0.39 2.27l0.48 1.51l0.60 0.96"/>
<path stroke="#ff0000" stroke-dasharray="2.82 1.22" d="M43.01 352.63l0.54 -32.74l0.30 12.38l0.33 7.95l0.45 5.75l0.57 3.33l0.39 1.13l0.48 0.81l0.48 -31.20l0.57 19.10l0.36 5.38l0.45 3.56l0.57 2.15l0.78 1.25l1.17 0.70l1.89 0.34l0.48 -32.83l0.33 12.85l0.36 8.36l0.45 5.40l0.60 3.25l0.48 -29.62l0.54 18.56l0.36 5.68l0.42 3.56l0.54 2.26l0.75 1.36l0.48 0.43l0.63 0.33l1.77 0.38l0.48 -32.63l0.36 13.51l0.39 8.46l0.51 5.36l0.30 1.66l0.39 1.32l0.45 -30.45l0.54 18.30l0.33 5.52l0.42 3.87l0.51 2.34l0.66 1.39l0.96 0.83l1.50 0.45l0.48 -33.05l0.63 20.55l0.39 5.34l0.54 3.61l0.45 -29.25l0.54 18.75l0.36 5.73l0.42 3.59l0.54 2.28l0.75 1.37l0.48 0.43l0.63 0.34l1.74 0.38l0.51 -32.23l0.36 12.94l0.36 8.06l0.45 5.21l0.60 3.14l0.45 -30.14l0.33 13.48l0.39 8.65l0.51 5.47l0.33 1.82l0.42 1.37l0.45 0.84l0.60 0.62l0.75 0.40l1.02 0.27l0.48 -32.62l0.36 13.62l0.39 8.44l0.51 5.35l0.30 1.65l0.39 1.32l0.45 -30.53l0.57 19.04l0.36 5.60l0.45 3.69l0.57 2.22l0.78 1.29l0.51 0.41l0.66 0.31l1.92 0.35l0.48 -33.29l0.60 20.15l0.39 5.59l0.54 3.77l0.33 1.04l0.45 -30.04l0.51 18.03l0.33 5.62l0.42 3.93l0.51 2.38l0.66 1.41l0.96 0.84l1.50 0.45l0.51 -32.41l0.60 19.71l0.39 5.44l0.51 3.54l0.15 0.62l0.42 -29.30l0.57 18.55l0.33 5.29l0.39 3.52l0.51 2.36l0.66 1.40l0.96 0.83l1.50 0.45l0.48 -32.75l0.60 19.60l0.39 5.65l0.48 3.52l0.57 1.96l0.48 -30.43l0.48 17.23l0.63 9.06l0.42 2.58l0.54 1.69l0.75 1.06l1.08 0.62l0.48 -32.95l0.60 20.16l0.39 5.59l0.51 3.63l0.45 1.58l0.45 -30.97l0.51 18.33l0.33 5.72l0.39 3.79l0.48 2.42l0.66 1.55l0.93 0.89l1.41 0.48l0.48 -32.94l0.60 19.88l0.39 5.62l0.48 3.50l0.57 1.95l0.45 -30.41l0.51 17.27l0.30 5.43l0.36 3.82l0.42 2.45l0.57 1.67l0.75 0.99l1.11 0.59l0.48 -32.51l0.63 20.13l0.39 5.38l0.54 3.64l0.45 -29.48l0.54 18.90l0.36 5.78l0.42 3.62l0.54 2.29l0.75 1.38l0.48 0.43l0.63 0.34l1.77 0.38l0.51 -32.83l0.30 12.47l0.36 8.54l0.45 5.51l0.63 3.41l0.45 -30.37l0.51 18.32l0.33 5.71l0.42 3.99l0.51 2.42l0.69 1.47l0.45 0.48l0.57 0.37l1.56 0.44l0.36 0.05l0.03 -1.01l0.45 -31.40l0.63 19.65l0.39 5.43l0.54 3.67l0.42 1.40l0.57 1.02l0.45 -31.36l0.54 18.07l0.30 5.16l0.36 3.64l0.45 2.46l0.60 1.59l0.84 0.96l1.23 0.53l0.48 -32.72l0.33 13.01l0.39 8.83l0.51 5.58l0.33 1.86l0.39 1.32l0.45 -30.75l0.54 18.67l0.36 5.85l0.42 3.66l0.51 2.23l0.72 1.41l0.48 0.47l0.57 0.33l1.62 0.40l0.48 -33.24l0.60 20.21l0.39 5.57l0.51 3.61l0.15 0.64l0.03 -1.02l0.42 -28.91l0.51 18.27l0.33 5.70l0.42 3.98l0.51 2.41l0.66 1.43l0.96 0.85l1.47 0.45l0.54 -32.82l0.33 13.43l0.42 9.08l0.54 5.40l0.33 1.66l0.42 1.26l0.45 -31.25l0.48 17.66l0.30 5.59l0.36 3.93l0.45 2.65l0.57 1.64l0.78 1.00l1.17 0.59l0.48 -32.71l0.33 13.07l0.33 7.81l0.42 5.39l0.57 3.43l0.45 -29.83l0.54 18.70l0.33 5.48l0.39 3.64l0.48 2.33l0.66 1.50l0.93 0.86l1.44 0.47l1.35 0.08l0.48 -33.19l0.57 19.58l0.39 5.84l0.51 3.78l0.42 -28.92l0.54 18.49l0.33 5.50l0.39 3.65l0.48 2.34l0.63 1.46l0.93 0.89l1.41 0.48l0.60 0.09l0.48 -32.58l0.63 19.89l0.39 5.41l0.54 3.65l0.45 -29.62l0.51 18.33l0.30 5.31l0.39 3.97l0.45 2.42l0.63 1.62l0.84 0.92l1.29 0.53l0.48 -32.87l0.30 12.24l0.36 8.75l0.42 5.38l0.57 3.42l0.45 -29.91l0.51 18.15l0.30 5.35l0.39 4.00l0.45 2.43l0.63 1.63l0.87 0.94l1.35 0.53l0.51 -32.54l0.57 19.25l0.39 5.75l0.51 3.72l0.45 1.62l0.03 -0.59l0.45 -29.63l0.48 17.24l0.30 5.47l0.39 4.08l0.45 2.48l0.60 1.60l0.84 0.96l1.23 0.54l0.48 -32.35l0.66 20.37l0.42 5.44l0.57 3.46l0.45 -29.40l0.54 18.17l0.33 5.53l0.42 3.87l0.51 2.35l0.66 1.40l0.96 0.83l1.50 0.45l0.48 -32.95l0.60 19.85l0.39 5.62l0.48 3.50l0.39 1.49l0.45 -30.37l0.48 17.45l0.30 5.53l0.39 4.12l0.45 2.50l0.60 1.62l0.84 0.97l1.29 0.55l0.66 0.13l0.48 -33.14l0.57 19.57l0.36 5.51l0.48 3.80l0.15 0.72l0.45 -28.97l0.48 17.24l0.30 5.46l0.39 4.08l0.45 2.48l0.60 1.60l0.81 0.94l1.23 0.55l0.72 0.14l0.03 -0.44l0.48 -32.33l0.60 19.93l0.42 5.80l0.54 3.54l0.42 -29.16l0.54 18.22l0.33 5.53l0.42 3.87l0.51 2.35l0.66 1.40l0.99 0.85l1.56 0.45l0.51 -32.41l0.30 12.33l0.39 8.95l0.48 5.43l0.66 3.18l0.45 -30.63l0.48 17.51l0.30 5.61l0.36 3.95l0.42 2.53l0.57 1.72l0.78 1.04l1.14 0.59l1.35 0.26l0.51 -32.60l0.60 19.78l0.42 5.76l0.54 3.35l0.42 -29.30l0.48 17.25l0.60 9.09l0.39 2.63l0.51 1.81l0.66 1.11l0.96 0.69l0.51 -32.41l0.57 19.35l0.36 5.45l0.48 3.76l0.24 1.08l0.45 -29.54l0.48 17.34l0.63 9.12l0.42 2.59l0.54 1.69l0.75 1.07l1.08 0.62l0.69 0.18l0.51 -32.37l0.30 12.34l0.33 7.93l0.42 5.46l0.30 2.19l0.18 0.91l0.03 -0.19l0.42 -29.30l0.45 16.71l0.30 5.91l0.33 3.88l0.42 2.77l0.51 1.73l0.72 1.13l1.02 0.66l1.26 0.31l0.48 -32.76l0.63 20.16l0.39 5.38l0.54 3.63l0.45 -29.46l0.45 16.82l0.63 9.68l0.39 2.60l0.51 1.78l0.69 1.13l0.96 0.67l0.99 0.29l1.38 0.17l0.48 -32.70l0.63 19.96l0.39 5.40l0.51 3.51l0.33 1.21l0.39 0.89l0.45 -31.14l0.54 18.36l0.30 5.13l0.39 3.84l0.45 2.34l0.63 1.58l0.87 0.92l1.32 0.51l0.51 -32.80l0.30 12.52l0.36 8.58l0.45 5.53l0.63 3.42l0.45 -30.39l0.45 16.87l0.57 9.20l0.36 2.70l0.48 1.96l0.60 1.20l0.84 0.76l1.11 0.42l0.48 -32.73l0.33 12.99l0.39 8.84l0.51 5.58l0.33 1.86l0.39 1.32l0.45 -30.73l0.45 16.55l0.54 8.95l0.36 2.85l0.45 1.96l0.57 1.26l0.78 0.80l0.90 0.41l1.26 0.25l0.48 -32.70l0.36 13.64l0.36 7.96l0.48 5.39l0.66 3.16l0.45 -30.59l0.39 15.28l0.54 9.77l0.33 2.89l0.42 2.10l0.54 1.40l0.72 0.88l1.26 0.61l0.48 -32.24l0.39 14.15l0.39 8.07l0.51 5.12l0.33 1.71l0.42 1.29l0.48 -30.70l0.39 15.11l0.51 9.32l0.30 2.79l0.39 2.15l0.48 1.44l0.66 0.98l0.75 0.53l1.02 0.34l0.48 -32.79l0.36 13.95l0.45 9.26l0.57 5.19l0.36 1.59l0.48 1.20l0.48 -31.38l0.39 15.05l0.45 8.78l0.63 5.24l0.42 1.57l0.57 1.12l0.87 0.78l1.29 0.44l0.48 -33.14l0.33 13.59l0.42 9.19l0.54 5.45l0.33 1.68l0.42 1.27l0.45 -30.81l0.36 13.89l0.42 8.85l0.54 5.27l0.36 1.74l0.42 1.18l0.45 0.73l0.54 0.51l0.69 0.36l0.93 0.25l0.48 -32.42l0.42 15.06l0.45 8.46l0.63 5.07l0.42 1.52l0.51 1.01l0.48 -31.88l0.57 19.62l0.39 5.85l0.48 3.64l0.36 1.45l0.45 1.05l0.57 0.73l0.78 0.51l0.51 -32.11l0.60 19.75l0.39 5.45l0.54 3.68"/>
</g></g>
<g filter="url(#bl)"><g clip-path="url(#c6)" fill="none" stroke-width="1.15" stroke-linejoin="round">
<path stroke="#0000ff" d="M43.01 392.02l0.27 0.79l0.36 -14.18l1.29 5.35l1.35 4.83l0.36 -12.85l1.41 6.19l1.47 5.50l1.56 4.93l1.68 4.44l0.36 -15.58l1.65 6.23l0.36 -12.48l1.50 6.67l1.62 6.06l1.71 5.32l1.80 4.60l0.36 -15.85l1.83 6.75l0.36 -12.83l1.50 6.56l1.62 5.96l1.71 5.23l1.83 4.60l0.36 -15.99l2.13 7.67l0.36 -13.23l1.56 6.68l1.68 6.01l1.77 5.22l1.92 4.62l0.36 -16.31l1.83 6.58l0.36 -13.08l1.47 6.37l1.56 5.71l1.65 5.05l1.77 4.48l0.36 -15.91l2.04 7.41l0.36 -13.09l1.47 6.36l1.56 5.71l1.65 5.05l1.74 4.41l0.36 -15.89l2.13 7.71l0.36 -13.18l1.62 6.93l1.71 6.08l1.83 5.34l1.98 4.68l0.36 -16.45l1.83 6.53l0.36 -13.15l1.77 7.52l1.92 6.64l2.04 5.66l2.22 4.86l0.36 -16.98l2.13 7.25l0.36 -13.75l1.53 6.39l1.62 5.68l0.36 -13.20l1.41 6.09l1.50 5.51l0.36 -12.67l1.71 7.46l1.80 6.46l1.95 5.68l2.10 4.88l0.36 -16.59l1.71 6.09l0.36 -13.10l1.80 7.65l1.92 6.64l2.07 5.73l2.25 4.90l0.36 -17.03l1.65 5.75l0.36 -13.28l2.22 9.15l2.40 7.65l0.36 -14.45l1.38 5.61l1.47 5.10l0.36 -13.21l2.34 9.61l1.23 4.13l1.32 3.85l1.38 3.46l1.44 3.09l1.50 2.73l1.62 2.48l0.36 -18.57l1.74 5.48l1.89 4.87l0.36 -15.84l1.80 6.65l1.95 5.85l0.36 -14.73l2.16 8.30l2.37 7.09l0.36 -14.95l1.29 5.14l1.38 4.74l1.44 4.23l1.53 3.81l0.36 -15.93l1.62 6.01l0.36 -12.64l2.19 9.32l2.37 7.83l1.26 3.39l1.35 3.14l1.41 2.82l1.47 2.50l0.36 -18.07l1.50 4.94l1.62 4.49l0.36 -15.20l2.22 8.30l2.43 7.02l0.36 -15.24l2.01 7.59l2.16 6.47l2.37 5.52l1.26 2.39l1.32 2.17l0.36 -18.19l1.44 4.72l0.36 -13.72l1.26 5.35l1.32 4.86l1.38 4.37l1.47 3.97l0.36 -15.32l1.95 7.35l0.36 -12.68l2.37 9.97l1.26 4.32l1.32 3.92l1.38 3.53l1.47 3.21l1.56 2.88l1.65 2.55l0.36 -18.55l1.65 5.23l0.36 -14.13l1.83 7.39l0.36 -11.89l1.50 6.86l1.56 6.01l1.68 5.41l1.80 4.78l0.36 -15.60l1.83 6.84l0.36 -12.69l2.25 9.52l2.43 7.93l1.32 3.49l1.38 3.14l1.44 2.80l1.53 2.52l0.36 -18.24l1.32 4.35l0.36 -13.63l1.44 6.09l1.50 5.38l0.36 -12.91l1.74 7.49l1.89 6.65l0.36 -13.32l1.80 7.57l1.95 6.66l0.36 -13.62l2.16 8.78l2.37 7.49l0.36 -14.50l1.41 5.71l1.50 5.17l1.56 4.53l1.68 4.08l0.36 -16.16l2.13 7.60l0.36 -13.32l2.28 9.35l1.23 4.14l1.26 3.69l1.32 3.35l1.41 3.08l1.47 2.73l1.56 2.45l0.36 -18.45l1.35 4.38l0.36 -13.78l2.22 8.93l0.36 -12.17l1.26 5.76l1.32 5.23l1.41 4.80l1.47 4.26l1.56 3.82l1.65 3.38l1.77 3.00l1.89 2.61l0.36 -19.04l1.23 3.86l0.36 -14.00l1.14 4.81l0.36 -10.95l1.53 7.28l1.62 6.47l1.74 5.76l1.86 5.04l1.98 4.34l2.13 3.71l2.31 3.15l2.55 2.65l0.36 -20.06l1.26 3.68l0.36 -14.62l1.02 4.19l0.36 -11.16l1.23 5.89l1.32 5.49"/>
<path stroke="#ff0000" stroke-dasharray="2.82 1.22" d="M43.01 390.73l0.27 0.62l0.36 -14.47l2.64 8.25l0.36 -11.20l1.41 4.96l1.44 4.50l1.50 4.14l1.59 3.86l0.36 -14.49l1.83 5.91l0.36 -9.98l2.70 9.23l1.44 4.14l1.50 3.81l0.36 -13.77l2.04 6.63l0.36 -10.01l2.43 8.39l2.61 7.31l0.36 -13.00l1.62 5.44l0.36 -9.03l2.70 9.41l1.44 4.21l1.50 3.88l0.36 -13.48l1.83 6.03l0.36 -9.57l2.40 8.37l2.55 7.24l0.36 -12.75l2.04 6.77l0.36 -9.61l1.41 5.12l1.44 4.64l1.50 4.28l1.59 3.99l0.36 -14.03l1.92 6.23l0.36 -9.93l2.43 8.41l2.61 7.32l0.36 -12.98l1.74 5.82l0.36 -9.22l2.43 8.53l2.61 7.42l0.36 -12.76l2.13 7.05l0.36 -9.75l1.98 7.00l2.07 6.18l0.36 -11.56l2.01 6.85l0.36 -9.08l2.34 8.26l2.52 7.27l0.36 -12.47l2.13 7.09l0.36 -9.64l2.01 7.11l2.13 6.34l0.36 -11.65l1.62 5.60l0.36 -8.47l2.70 9.51l1.44 4.26l1.50 3.93l0.36 -13.32l1.83 6.06l0.36 -9.50l2.67 9.23l1.41 4.10l1.47 3.79l0.36 -13.51l2.64 8.42l0.36 -10.83l2.16 7.42l2.28 6.51l0.36 -12.46l2.04 6.81l0.36 -9.49l2.55 8.86l2.76 7.68l0.36 -13.20l1.74 5.79l0.36 -9.31l2.43 8.51l2.61 7.41l0.36 -12.78l2.13 7.04l0.36 -9.77l2.07 7.29l2.19 6.46l0.36 -11.86l1.74 5.96l0.36 -8.76l1.44 5.31l1.53 4.98l1.59 4.55l1.65 4.12l0.36 -14.12l1.56 5.13l0.36 -9.39l2.61 9.06l2.82 7.81l0.36 -13.32l1.62 5.41l0.36 -9.16l2.22 7.86l2.34 6.85l0.36 -12.08l1.74 5.93l0.36 -8.85l2.25 8.01l2.37 6.96l0.36 -12.07l2.04 6.87l0.36 -9.33l2.16 7.65l2.28 6.71l0.36 -11.97l1.74 5.94l0.36 -8.80l2.43 8.60l2.61 7.48l0.36 -12.63l1.92 6.42l0.36 -9.37l2.46 8.60l2.67 7.54l0.36 -12.92l1.65 5.55l0.36 -9.04l2.46 8.65l2.67 7.58l0.36 -12.82l1.65 5.56l0.36 -9.00l2.46 8.66l2.67 7.59l0.36 -12.81l1.95 6.49l0.36 -9.49l2.64 9.14l1.41 4.12l1.47 3.81l0.36 -13.47l1.65 5.48l0.36 -9.27l1.80 6.47l1.92 5.91l0.36 -10.91l1.74 6.07l0.36 -8.37l2.28 8.18l2.46 7.25l0.36 -12.08l1.65 5.64l0.36 -8.70l2.46 8.71l2.67 7.63l0.36 -12.72l1.62 5.48l0.36 -8.91l1.44 5.29l1.50 4.88l1.56 4.46l1.65 4.13l0.36 -14.09l2.34 7.46l0.36 -10.60l2.25 7.74l2.37 6.72l0.36 -12.63l1.86 6.24l0.36 -9.27l2.19 7.75l2.34 6.86l0.36 -12.08l2.04 6.87l0.36 -9.34l2.61 9.07l2.82 7.82l0.36 -13.31l1.92 6.33l0.36 -9.64l2.10 7.41l2.25 6.62l0.36 -11.95l2.13 7.16l0.36 -9.43l2.25 7.92l2.40 6.96l0.36 -12.30l2.34 7.75l0.36 -9.91l2.28 7.94l2.43 6.96l0.36 -12.53l2.16 7.17l0.36 -9.71l2.34 8.16l2.49 7.10l0.36 -12.63l2.52 8.23l0.36 -10.32l1.83 6.44l1.92 5.78l0.36 -11.31l1.44 5.05"/>
</g></g>
<g filter="url(#bl)"><g clip-path="url(#c7)" fill="none" stroke-width="1.15" stroke-linejoin="round">
<path stroke="#0000ff" d="M43.01 461.78l0.45 -21.79l0.18 -3.92l1.02 15.16l0.51 4.51l0.60 3.28l0.09 0.19l0.09 -0.24l0.12 -1.77l0.57 -21.13l0.96 14.52l0.45 4.28l0.51 3.23l0.63 2.50l0.75 1.72l0.96 1.17l1.23 0.71l0.15 -0.12l0.09 -0.48l0.15 -2.73l0.45 -21.62l0.18 -3.20l0.75 12.12l0.54 5.54l0.06 0.09l0.06 -0.30l0.09 -1.47l0.33 -13.25l0.18 -2.69l0.96 14.81l0.48 4.40l0.54 3.22l0.66 2.41l0.81 1.67l1.05 1.10l1.44 0.67l0.15 -0.09l0.09 -0.37l0.15 -2.34l0.45 -21.45l0.18 -4.04l0.84 12.99l0.63 6.00l0.06 0.13l0.06 -0.19l0.12 -1.92l0.36 -14.90l0.15 -2.14l0.96 14.73l0.48 4.44l0.54 3.25l0.66 2.43l0.84 1.73l1.05 1.09l1.44 0.66l0.15 -0.13l0.09 -0.48l0.15 -2.71l0.45 -21.67l0.18 -3.34l0.87 13.63l0.42 4.32l0.42 2.86l0.09 0.07l0.06 -0.35l0.12 -2.27l0.51 -18.24l0.99 14.93l0.48 4.37l0.57 3.34l0.69 2.42l0.87 1.67l1.11 1.04l1.56 0.63l0.15 -0.11l0.09 -0.43l0.15 -2.51l0.45 -21.57l0.18 -3.76l0.81 12.71l0.66 6.33l0.06 0.10l0.06 -0.24l0.12 -2.05l0.33 -13.96l0.18 -2.87l0.93 14.44l0.48 4.53l0.54 3.31l0.66 2.48l0.78 1.66l1.02 1.13l1.35 0.68l0.15 -0.12l0.09 -0.46l0.15 -2.63l0.45 -21.61l0.18 -3.45l0.84 13.22l0.78 7.01l0.06 0.14l0.06 -0.14l0.12 -1.66l0.39 -16.29l0.15 -2.29l0.96 14.68l0.45 4.23l0.54 3.35l0.66 2.50l0.78 1.68l1.02 1.14l1.35 0.68l0.15 -0.09l0.09 -0.39l0.15 -2.40l0.45 -21.47l0.18 -3.90l0.90 13.79l0.42 4.26l0.42 2.78l0.12 -0.20l0.12 -1.99l0.36 -15.63l0.18 -3.01l0.99 15.09l0.51 4.53l0.57 3.22l0.72 2.41l0.87 1.57l1.14 1.01l1.62 0.61l0.18 -0.11l0.09 -0.41l0.15 -2.44l0.45 -21.54l0.18 -3.93l0.81 12.64l0.66 6.36l0.06 0.12l0.06 -0.21l0.12 -1.97l0.33 -13.92l0.18 -3.04l1.02 15.41l0.54 4.63l0.63 3.31l0.78 2.32l0.99 1.51l0.60 0.51l0.72 0.40l1.92 0.51l0.18 -0.08l0.09 -0.32l0.15 -2.10l0.48 -22.53l0.18 -3.56l0.90 13.91l0.42 4.23l0.42 2.73l0.12 -0.29l0.12 -2.15l0.36 -15.70l0.18 -2.68l0.66 10.99l0.54 6.25l0.78 5.19l0.54 2.05l0.12 0.22l0.09 -0.18l0.18 -2.95l0.39 -18.28l0.18 -3.35l0.69 11.24l0.48 5.63l0.66 4.78l0.45 2.03l0.24 0.47l0.21 -2.88l0.39 -18.04l0.18 -3.23l1.02 15.38l0.51 4.44l0.60 3.28l0.75 2.37l0.93 1.55l1.23 0.96l1.77 0.56l0.18 -0.08l0.09 -0.34l0.15 -2.18l0.48 -22.59l0.18 -3.35l0.78 12.48l0.60 5.92l0.06 0.07l0.06 -0.30l0.09 -1.45l0.36 -14.53l0.15 -2.20l1.05 15.69l0.54 4.53l0.63 3.24l0.78 2.28l0.99 1.48l0.63 0.52l0.72 0.38l1.95 0.50l0.18 -0.06l0.12 -0.45l0.15 -2.38l0.48 -22.73l0.18 -2.98l0.72 11.77l0.54 5.76l0.06 0.20l0.06 -0.12l0.12 -1.79l0.33 -13.31l0.18 -2.47l0.78 12.69l0.78 7.39l0.48 2.64l0.57 2.04l0.69 1.51l0.75 0.90l0.18 -0.69l0.12 -2.21l0.45 -21.20l0.18 -3.12l1.08 16.03l0.57 4.59l0.66 3.13l0.09 0.10l0.09 -0.37l0.12 -2.00l0.39 -17.71l0.18 -3.76l1.08 15.84l0.54 4.46l0.66 3.31l0.81 2.25l1.02 1.42l0.63 0.48l0.78 0.38l2.10 0.48l2.55 0.19l0.15 -0.16l0.09 -0.47l0.21 -4.66l0.39 -19.77l0.18 -3.77l0.72 11.49l0.54 6.08l0.72 4.77l0.42 1.72l0.51 1.44l0.18 0.34l0.12 -0.08l0.18 -2.28l0.60 -23.45l0.78 12.21l0.63 6.54l0.42 2.77l0.48 2.18l0.69 1.96l0.21 0.35l0.12 -0.17l0.21 -3.59l0.39 -18.79l0.18 -3.48l0.81 12.82l0.75 7.16l0.48 2.69l0.54 2.00l0.66 1.52l0.72 0.95l0.18 -0.52l0.15 -2.74l0.42 -20.15l0.18 -3.70l0.90 13.86l0.42 4.24l0.48 3.31l0.57 2.54l0.69 1.86l0.87 1.30l1.08 0.80l0.21 -0.49l0.15 -2.51l0.45 -21.44l0.18 -3.49l0.78 12.42l0.54 5.31l0.21 -2.34l0.33 -13.38l0.15 -2.00l1.02 15.42l0.54 4.62l0.63 3.31l0.78 2.32l0.99 1.50l0.60 0.51l0.72 0.40l1.92 0.51l2.16 0.20l0.15 -0.18l0.09 -0.52l0.21 -4.90l0.39 -19.77l0.18 -3.45l1.08 15.95l0.57 4.62l0.69 3.31l0.36 0.84l0.18 -1.83l0.45 -19.94l0.18 -2.93l0.81 12.98l0.75 7.07l0.48 2.66l0.57 2.06l0.66 1.47l0.78 0.97l0.18 -0.58l0.15 -2.87l0.42 -20.25l0.18 -3.53l1.02 15.29l0.51 4.47l0.63 3.43l0.75 2.33l0.93 1.52l1.26 0.96l1.80 0.55l1.59 0.19l0.15 -0.22l0.09 -0.62l0.75 -27.87l0.72 11.40l0.42 4.63l0.06 0.12l0.06 -0.29l0.09 -1.52l0.33 -12.59l0.15 -1.75l0.87 13.77l0.87 7.41l0.57 2.62l0.66 1.85l0.81 1.30l1.02 0.83l0.21 -0.59l0.15 -2.77l0.42 -20.35l0.21 -4.10l0.81 12.98l0.72 6.66l0.06 0.11l0.06 -0.20l0.12 -1.91l0.51 -17.65l1.02 15.26l0.51 4.48l0.60 3.31l0.72 2.32l0.90 1.56l1.20 0.99l1.68 0.58l3.66 0.36l0.18 -0.07l0.09 -0.26l0.24 -4.37l0.39 -19.73l0.21 -4.43l0.75 12.12l0.54 5.55l0.06 0.09l0.06 -0.29l0.09 -1.46l0.48 -15.97l0.93 14.14l0.45 4.35l0.12 0.61l0.09 -0.19l0.48 -16.88l0.15 -2.04l0.93 14.41l0.48 4.55l0.54 3.33l0.66 2.49l0.81 1.72l1.02 1.11l1.38 0.68l0.18 -0.08l0.09 -0.38l0.15 -2.36l0.45 -21.45l0.18 -3.99l0.84 13.01l0.63 5.99l0.06 0.12l0.06 -0.20l0.12 -1.94l0.33 -13.91l0.18 -3.09l0.96 14.74l0.48 4.44l0.57 3.39l0.69 2.45l0.84 1.65l1.11 1.08l1.53 0.64l1.47 0.27l1.95 0.16l0.18 -0.10l0.09 -0.35l0.21 -3.95l0.42 -20.88l0.18 -3.54l0.75 12.00l0.36 3.32l0.18 -2.80l0.30 -11.28l0.15 -1.09l0.60 10.31l0.51 6.19l0.66 4.88l0.42 1.96l0.27 0.70l0.24 -3.11l0.39 -18.07l0.18 -2.97l0.72 11.77l0.60 6.48l0.81 4.85l0.51 1.75l0.48 1.00l0.15 -0.65l0.12 -2.31l0.42 -19.70l0.18 -3.22l0.75 12.12l0.60 6.35l0.81 4.75l0.54 1.80l0.51 1.03l0.15 -0.53l0.12 -2.07l0.45 -20.71l0.18 -2.70l0.78 12.65l0.75 7.21l0.48 2.71l0.54 2.01l0.66 1.53l0.75 0.96l0.18 -0.73l0.12 -2.27l0.45 -21.19l0.18 -2.91l0.93 14.44l0.45 4.30l0.51 3.25l0.63 2.51l0.75 1.73l0.96 1.18l1.26 0.72l0.21 -0.55l0.15 -2.60l0.60 -24.93l0.15 1.02l0.81 13.20l0.45 4.35l0.39 2.26l0.21 -2.57l0.51 -18.33l0.69 11.07l0.48 5.68l0.63 4.66l0.78 3.23l0.96 2.01l0.60 0.69l0.69 0.51l0.84 0.38l1.05 0.28l3.09 0.32l0.18 -0.09l0.12 -0.54l0.15 -2.65l0.60 -25.40l0.15 0.84l0.66 11.35l0.33 2.99l0.18 -2.64l0.30 -11.34l0.15 -1.25l0.90 14.25l0.48 4.57l0.45 2.51l0.21 -2.65l0.36 -15.92l0.18 -2.81l0.66 10.96l0.54 6.27l0.69 4.76l0.87 3.18l0.51 1.06l0.57 0.79l0.69 0.62l0.81 0.44l2.28 0.55l3.93 0.24l0.18 -0.05l0.12 -0.35l0.18 -2.79l0.60 -25.53l0.06 -0.15l0.09 0.88l0.54 9.66l0.36 3.83l0.18 -2.32l0.36 -11.84l0.06 -0.23l0.09 0.78l0.54 9.65l0.30 2.98l0.57 -13.41l0.72 11.76l0.60 6.49l0.78 4.73l0.48 1.71l0.54 1.29l0.57 0.89l0.69 0.69l0.84 0.50l1.02 0.35l3.03 0.40l5.65 0.14l0.21 -0.04l0.12 -0.29l0.18 -2.52l0.63 -26.05l0.75 11.64l0.30 2.71l0.54 -14.29l0.15 0.95l0.54 9.61l0.21 1.72l0.54 -12.38l0.66 10.88l0.48 5.75l0.66 4.88l0.72 2.84"/>
<path stroke="#ff0000" stroke-dasharray="2.82 1.22" d="M43.01 461.98l0.45 -20.43l0.18 -3.68l1.02 14.21l0.51 4.22l0.60 3.07l0.09 0.18l0.09 -0.23l0.12 -1.66l0.57 -19.81l0.93 13.29l0.42 3.89l0.51 3.18l0.60 2.37l0.75 1.73l0.93 1.15l1.17 0.69l0.21 -0.47l0.15 -2.34l0.45 -20.13l0.18 -3.37l0.81 11.98l0.66 5.89l0.06 0.07l0.06 -0.25l0.09 -1.29l0.36 -13.82l0.18 -2.54l0.87 12.91l0.42 3.99l0.48 3.12l0.60 2.49l0.69 1.71l0.87 1.20l1.08 0.73l0.21 -0.67l0.12 -2.01l0.45 -20.04l0.18 -3.46l0.87 12.65l0.75 6.27l0.09 0.14l0.06 -0.26l0.12 -1.97l0.51 -16.84l0.87 12.68l0.81 6.75l0.51 2.41l0.63 1.88l0.75 1.31l0.87 0.81l0.21 -0.65l0.12 -2.03l0.45 -19.96l0.18 -3.20l0.75 11.29l0.54 5.25l0.06 0.11l0.06 -0.24l0.09 -1.30l0.36 -13.27l0.15 -1.82l0.90 13.20l0.42 3.91l0.48 3.05l0.57 2.35l0.69 1.72l0.87 1.20l1.08 0.73l0.21 -0.61l0.15 -2.71l0.42 -19.18l0.18 -3.67l0.81 11.86l0.66 5.96l0.06 0.11l0.06 -0.20l0.12 -1.86l0.33 -13.06l0.18 -2.83l0.84 12.49l0.81 6.84l0.51 2.44l0.60 1.83l0.75 1.36l0.84 0.80l0.18 -0.57l0.15 -2.71l0.42 -19.06l0.18 -3.42l0.87 12.67l0.75 6.26l0.09 0.14l0.06 -0.27l0.12 -1.99l0.36 -14.51l0.15 -2.30l0.93 13.38l0.42 3.86l0.51 3.17l0.60 2.36l0.75 1.73l0.93 1.14l1.17 0.69l0.21 -0.52l0.15 -2.46l0.45 -20.21l0.18 -3.13l0.81 12.07l0.72 6.33l0.06 0.14l0.06 -0.13l0.12 -1.60l0.36 -14.11l0.18 -2.66l0.84 12.53l0.81 6.81l0.51 2.43l0.63 1.89l0.75 1.32l0.90 0.83l0.18 -0.55l0.15 -2.64l0.42 -19.04l0.18 -3.60l0.78 11.51l0.60 5.67l0.06 0.13l0.06 -0.19l0.12 -1.86l0.33 -12.82l0.18 -2.41l0.84 12.59l0.81 6.77l0.51 2.41l0.60 1.81l0.75 1.34l0.90 0.86l0.21 -0.61l0.12 -1.96l0.45 -19.91l0.18 -3.36l0.87 12.69l0.81 6.67l0.09 0.24l0.06 -0.12l0.12 -1.49l0.39 -15.43l0.18 -2.53l0.75 11.48l0.66 6.33l0.42 2.52l0.48 1.99l0.57 1.55l0.60 0.96l0.18 -0.73l0.12 -2.29l0.57 -21.80l0.93 13.06l0.45 4.18l0.33 1.80l0.21 -2.50l0.33 -13.58l0.18 -3.02l0.84 12.45l0.78 6.69l0.51 2.51l0.57 1.81l0.72 1.38l0.84 0.86l0.18 -0.60l0.15 -2.79l0.42 -19.06l0.18 -3.24l0.87 12.74l0.81 6.64l0.09 0.23l0.06 -0.13l0.12 -1.54l0.54 -17.92l0.81 11.92l0.66 6.15l0.42 2.45l0.51 2.03l0.57 1.47l0.63 0.96l0.18 -0.69l0.12 -2.21l0.57 -21.99l0.15 0.87l0.72 11.36l0.51 4.31l0.18 -2.14l0.33 -12.55l0.15 -1.95l0.90 13.16l0.42 3.93l0.48 3.06l0.57 2.36l0.69 1.73l0.87 1.21l1.08 0.74l0.21 -0.57l0.15 -2.62l0.42 -19.13l0.21 -3.84l0.78 11.80l0.66 6.00l0.06 0.13l0.06 -0.17l0.12 -1.77l0.36 -13.97l0.15 -2.04l0.90 13.14l0.87 6.85l0.57 2.42l0.69 1.77l0.84 1.21l1.05 0.75l0.21 -0.63l0.15 -2.75l0.42 -19.18l0.18 -3.57l1.02 14.25l0.51 4.21l0.57 2.96l0.09 0.24l0.09 -0.07l0.15 -1.86l0.39 -16.29l0.18 -3.45l0.81 11.94l0.72 6.55l0.45 2.47l0.54 1.97l0.63 1.45l0.72 0.95l0.18 -0.50l0.15 -2.62l0.42 -18.90l0.18 -3.31l0.84 12.36l0.78 6.59l0.09 0.12l0.06 -0.29l0.12 -2.05l0.33 -13.54l0.18 -3.20l0.87 12.74l0.87 7.06l0.54 2.39l0.66 1.80l0.78 1.23l0.99 0.81l0.21 -0.48l0.15 -2.42l0.45 -20.09l0.18 -3.05l0.78 11.73l0.60 5.52l0.12 -0.24l0.09 -1.40l0.36 -13.63l0.15 -1.99l0.84 12.47l0.81 6.86l0.51 2.44l0.63 1.90l0.75 1.33l0.90 0.84l0.18 -0.49l0.15 -2.49l0.45 -20.05l0.18 -2.80l0.90 13.19l0.45 4.14l0.39 2.23l0.12 -0.44l0.12 -2.30l0.48 -16.80l0.84 12.04l0.69 6.29l0.42 2.37l0.51 1.96l0.60 1.48l0.66 0.94l0.18 -0.75l0.12 -2.28l0.57 -22.00l0.15 0.92l0.72 11.36l0.39 3.90l0.21 1.04l0.18 -2.27l0.33 -12.86l0.15 -2.19l0.93 13.42l0.45 4.08l0.54 3.22l0.63 2.32l0.78 1.65l0.96 1.07l1.29 0.67l0.15 -0.12l0.09 -0.45l0.15 -2.57l0.45 -20.29l0.18 -3.01l0.72 10.98l0.48 4.84l0.06 0.12l0.06 -0.24l0.09 -1.33l0.48 -14.35l0.90 13.06l0.87 6.89l0.57 2.44l0.66 1.72l0.81 1.21l1.02 0.77l0.21 -0.64l0.12 -1.97l0.45 -19.99l0.18 -3.47l0.75 11.18l0.54 5.31l0.06 0.15l0.06 -0.18l0.09 -1.19l0.36 -13.25l0.15 -2.04l0.81 12.10l0.75 6.67l0.48 2.51l0.54 1.86l0.66 1.42l0.72 0.88l0.18 -0.54l0.15 -2.69l0.42 -18.96l0.18 -3.25l0.78 11.66l0.60 5.58l0.06 0.08l0.06 -0.26l0.09 -1.32l0.36 -13.60l0.15 -2.15l0.81 12.05l0.75 6.69l0.48 2.52l0.57 1.95l0.66 1.39l0.78 0.92l0.18 -0.45l0.15 -2.46l0.42 -18.85l0.18 -3.74l0.87 12.55l0.75 6.33l0.09 0.18l0.06 -0.22l0.12 -1.84l0.36 -14.44l0.18 -2.55l0.78 11.85l0.72 6.58l0.45 2.48l0.54 1.98l0.63 1.45l0.72 0.96l0.18 -0.46l0.15 -2.52l0.42 -18.83l0.18 -3.50l0.78 11.55l0.60 5.64l0.06 0.12l0.06 -0.21l0.12 -1.91l0.48 -15.20l0.87 12.67l0.81 6.75l0.51 2.41l0.63 1.88l0.75 1.31l0.87 0.82l0.21 -0.64l0.12 -2.01l0.45 -19.94l0.18 -3.26l0.81 12.02l0.72 6.36l0.06 0.15l0.06 -0.11l0.12 -1.54l0.36 -14.09l0.18 -2.78l0.84 12.51l0.84 7.00l0.54 2.49l0.63 1.81l0.78 1.30l0.90 0.79l0.18 -0.46l0.15 -2.40l0.45 -20.04l0.18 -3.00l0.75 11.36l0.54 5.19l0.06 0.08l0.06 -0.28l0.09 -1.38l0.33 -12.42l0.18 -2.52l0.84 12.56l0.84 6.96l0.51 2.36l0.63 1.84l0.75 1.29l0.93 0.85l0.21 -0.51l0.15 -2.53l0.45 -20.09l0.18 -2.75l0.72 11.04l0.57 5.52l0.12 -0.28l0.09 -1.48l0.48 -14.82l0.87 12.68l0.84 6.92l0.51 2.35l0.63 1.83l0.75 1.28l0.93 0.84l0.21 -0.56l0.15 -2.66l0.42 -19.07l0.18 -3.59l0.84 12.25l0.72 6.19l0.06 0.08l0.06 -0.23l0.12 -1.91l0.36 -14.26l0.15 -2.14l0.90 13.11l0.87 6.87l0.57 2.43l0.66 1.72l0.84 1.24l1.05 0.78l0.21 -0.37l0.15 -2.12l0.45 -19.94l0.18 -3.68l0.75 11.10l0.54 5.36l0.06 0.17l0.06 -0.15l0.12 -1.78l0.48 -14.73l0.75 11.28l0.60 5.99l0.81 4.48l0.51 1.62l0.54 1.06l0.18 -0.72l0.12 -2.33l0.42 -18.59l0.18 -2.76l0.75 11.43l0.60 5.72l0.06 0.15l0.06 -0.15l0.12 -1.74l0.33 -12.76l0.18 -2.64l0.81 12.18l0.78 6.80l0.48 2.43l0.57 1.88l0.69 1.39l0.81 0.90l0.18 -0.50l0.15 -2.56l0.42 -18.93l0.18 -3.61l0.75 11.13l0.54 5.35l0.06 0.16l0.06 -0.16l0.12 -1.81l0.48 -14.69l0.87 12.76l0.81 6.71l0.51 2.40l0.63 1.87l0.78 1.34l0.93 0.84l0.21 -0.62l0.12 -1.98l0.45 -19.94l0.18 -3.36l0.75 11.23l0.54 5.29l0.06 0.13l0.06 -0.21l0.09 -1.24l0.36 -13.26l0.15 -1.94l0.93 13.50l0.45 4.05l0.51 3.06l0.60 2.28l0.75 1.67l0.93 1.11l1.26 0.72l0.18 -0.08l0.09 -0.38l0.15 -2.33l0.45 -20.14l0.18 -3.44l0.93 13.34l0.45 4.10l0.48 2.88l0.09 0.20l0.09 -0.30l0.12 -1.92l0.36 -14.98l0.18 -3.33l0.84 12.34l0.75 6.55l0.48 2.47l0.54 1.83l0.66 1.40l0.78 0.93l0.18 -0.42l0.15 -2.37l0.45 -19.89l0.18 -2.83l0.78 11.78l0.66 6.02l0.06 0.13l0.06 -0.16l0.12 -1.73l0.36 -13.96l0.15 -2.11l0.81 12.08l0.75 6.68l0.48 2.52l0.54 1.86l0.66 1.42l0.72 0.88l0.18 -0.52l0.15 -2.65l0.42 -18.94l0.18 -3.32l0.84 12.36l0.78 6.59l0.09 0.12l0.06 -0.29l0.12 -2.04l0.33 -13.54l0.18 -3.20l0.87 12.74l0.87 7.06l0.54 2.39l0.66 1.80l0.81 1.26l1.02 0.82l0.15 -0.05l0.09 -0.35l0.15 -2.24l0.45 -20.01l0.18 -3.41l0.84 12.32l0.69 6.04l0.06 0.17l0.06 -0.08l0.12 -1.46l0.36 -14.05l0.18 -2.94l0.78 11.75l0.72 6.64l0.45 2.50l0.51 1.91l0.60 1.44l0.69 0.98l0.18 -0.43l0.15 -2.47l0.42 -18.77l0.18 -3.54l0.90 12.97l0.81 6.48l0.09 0.13l0.06 -0.26l0.12 -1.92l0.36 -14.67l0.18 -2.72l0.81 12.17l0.75 6.62l0.48 2.49l0.54 1.85l0.66 1.41l0.78 0.95l0.12 -0.08l0.09 -0.46l0.15 -2.70l0.42 -18.98l0.18 -3.30l0.93 13.39l0.45 4.09l0.48 2.87l0.09 0.19l0.09 -0.33l0.12 -1.99l0.36 -15.04l0.18 -3.19l0.84 12.40l0.75 6.53l0.48 2.46l0.54 1.82l0.66 1.39l0.81 0.98l0.15 -0.01l0.09 -0.35l0.15 -2.28l0.45 -19.90l0.18 -3.04l0.87 12.80l0.81 6.60l0.09 0.20l0.06 -0.16l0.12 -1.64l0.39 -15.51l0.15 -2.29l0.81 12.00l0.69 6.32l0.45 2.52l0.51 1.92l0.60 1.46l0.75 1.09l0.39 0.36l0.15 -0.07l0.18 -1.66l0.48 -20.43l0.18 -3.51l1.02 14.27l0.51 4.21l0.57 2.83l0.12 -0.25l0.12 -1.79l0.39 -16.24l0.18 -3.04l1.11 15.29l0.57 4.21l0.72 3.12l0.75 1.77l0.15 -0.08l0.09 -0.66l0.69 -23.61l0.81 11.87l0.63 5.56"/>
</g></g>
<g filter="url(#bl)"><g clip-path="url(#c8)" fill="none" stroke-width="1.15" stroke-linejoin="round">
<path stroke="#0000ff" d="M43.00 506.19L44.25 505.77L45.75 505.76L47.25 505.34L49.25 505.39L51.50 505.09L52.25 504.93L53.75 504.42L55.50 504.18L56.00 504.13L57.75 504.22L60.25 503.91L61.25 503.72L62.75 503.23L64.00 503.12L65.00 502.93L66.50 503.03L67.50 502.96L70.00 502.62L72.00 502.04L73.25 502.00L74.50 501.72L76.25 501.82L78.50 501.59L80.00 501.38L81.75 500.86L83.00 500.77L84.00 500.61L85.75 500.74L88.00 500.54L89.25 500.35L90.75 499.91L92.00 499.89L93.25 499.67L94.75 499.81L95.75 499.78L98.25 499.51L100.00 499.03L101.25 499.04L102.50 498.81L104.25 498.97L106.75 498.80L108.25 498.64L110.00 498.18L111.00 498.16L112.25 498.01L114.25 498.20L117.75 497.96L119.00 497.80L120.50 497.41L121.75 497.44L123.00 497.24L124.75 497.39L126.50 497.00L128.25 497.13L129.75 496.79L131.75 496.99L135.25 496.79L136.25 496.65L137.75 496.27L140.00 496.16L141.25 496.36L142.00 496.38L145.25 496.22L146.50 496.11L148.25 495.70L150.00 495.62L150.50 495.63L151.75 495.85L152.75 495.86L153.75 495.74L155.00 495.42L155.50 495.41L156.75 495.56L158.50 495.24L160.00 495.45L161.25 495.44L167.50 495.05L168.25 494.92L169.50 494.59L170.00 494.59L171.00 494.75L171.75 494.74L173.50 494.32L174.00 494.32L175.00 494.47L175.75 494.46L177.75 494.00L179.25 494.15L180.00 494.14L181.00 494.00L182.50 493.57L183.00 493.56L184.50 493.69L186.25 493.51L187.25 493.25L188.50 492.73L190.75 492.26L192.25 492.30L194.00 492.20L195.00 492.24L199.00 493.00L199.75 492.98L201.00 492.74L202.75 492.94L204.50 492.56L206.25 492.72L207.25 492.65L208.00 492.51L209.50 492.07L211.50 492.16L216.50 491.65L217.50 491.50L219.00 491.09L220.50 491.02L221.00 491.05L222.25 491.32L223.00 491.39L224.75 491.41L226.25 491.17L226.75 491.16L227.75 491.28L229.00 491.26L230.50 491.64L231.25 491.73L235.50 491.93L238.25 491.97L239.00 491.89L240.25 491.61L243.25 491.41L244.50 491.17L246.00 491.21L246.75 491.13L249.50 490.60L251.25 489.97L253.75 489.63L255.25 489.80L257.25 489.81L258.25 489.88L262.50 490.55L264.50 490.44L266.00 490.50L267.50 490.71L268.00 490.64L269.25 490.27L270.75 490.29L271.25 490.24L271.75 490.12L273.25 489.54L275.25 489.43L275.75 489.31L277.00 488.82L277.50 488.70L279.00 488.76L279.75 488.71L280.75 488.56L282.25 488.12L282.75 488.12L283.75 488.24L284.75 488.21L287.00 487.97L288.75 487.52L290.00 487.56L291.25 487.39L291.75 487.42L292.75 487.62L294.50 487.76L295.50 487.93L297.00 488.31L300.00 489.23L301.00 489.38L302.00 489.33L303.50 489.37L304.75 489.28L305.25 489.14L306.50 488.44L307.00 488.27L309.00 487.80L310.00 487.70L311.00 487.77L312.00 487.95L313.25 488.27L316.75 489.34L317.50 489.48L318.00 489.50L320.25 489.29L321.00 489.10L322.25 488.67L323.75 488.32L325.25 487.84L326.00 487.71L327.00 487.72L328.25 487.86L329.75 488.15L335.25 489.68L336.25 489.91L337.00 489.98L338.25 489.86L339.50 489.82L340.00 489.72L342.25 488.68L343.25 488.10"/>
<path stroke="#ff0000" stroke-dasharray="2.82 1.22" d="M43.01 506.70l0.30 12.52l0.21 0.03l1.92 -21.76l0.03 -0.15l0.57 1.17l0.24 19.95l0.03 1.15l0.21 0.03l1.95 -21.63l3.87 7.79l0.24 14.05l0.03 0.45l0.21 0.02l1.71 -18.80l0.27 18.98l0.21 0.02l1.95 -21.01l3.57 7.00l0.24 13.87l0.03 0.60l0.21 0.02l1.92 -20.59l0.24 20.06l0.03 0.68l0.21 0.01l1.95 -20.54l2.97 5.72l0.27 15.13l0.21 0.01l1.50 -15.89l0.27 15.98l0.21 0.01l1.95 -20.27l3.57 6.78l0.27 13.75l0.21 0.01l0.03 -0.15l1.68 -17.59l0.27 17.82l0.21 0.01l1.95 -20.03l2.88 5.41l0.24 14.25l0.03 0.54l0.21 0.01l1.92 -19.82l0.24 19.33l0.03 0.56l0.21 0.01l1.95 -19.83l3.87 7.21l0.24 12.70l0.24 0.06l1.80 -18.52l0.27 18.56l0.21 0.00l1.95 -19.71l2.97 5.50l0.27 14.30l0.21 0.00l0.03 -0.16l1.59 -16.28l0.24 15.51l0.03 0.97l0.21 0.00l1.95 -19.60l2.97 5.48l0.24 13.77l0.03 0.42l0.21 0.00l1.95 -19.54l0.33 19.57l0.21 0.00l1.95 -19.53l1.98 3.64l0.24 15.87l0.24 0.07l1.92 -19.43l0.24 19.45l0.21 0.00l1.95 -19.51l2.79 5.12l0.24 14.19l0.03 0.24l0.21 0.00l1.95 -19.44l0.30 18.51l0.03 0.94l0.21 0.00l1.95 -19.44l2.07 3.79l0.27 15.67l0.21 0.00l0.03 -0.22l1.50 -14.94l0.24 15.17l0.21 0.00l1.95 -19.44l3.57 6.53l0.27 12.94l0.24 -0.09l1.71 -17.19l0.24 17.30l0.21 0.00l1.95 -19.41l3.48 6.36l0.24 12.38l0.03 0.69l0.21 0.00l1.95 -19.37l0.57 1.04l0.24 17.56l0.03 0.78l0.21 0.00l1.95 -19.36l2.37 4.32l0.24 14.68l0.03 0.37l0.21 0.00l1.92 -19.33l0.27 19.33l0.21 0.00l0.03 -0.26l1.89 -19.08l3.30 6.04l0.24 13.31l0.24 -0.01l1.62 -16.13l0.24 16.15l0.24 -0.03l1.92 -19.34l2.97 5.41l0.27 13.96l0.24 -0.08l1.92 -19.27l0.09 0.19l0.24 19.17l0.24 0.00l1.92 -19.36l2.19 3.99l0.27 15.38l0.21 0.00l0.03 -0.25l1.59 -16.04l0.24 16.01l0.03 0.28l0.21 0.00l1.92 -19.33l4.17 7.55l0.27 11.78l0.24 -0.02l1.41 -14.22l0.24 13.83l0.03 0.41l0.21 0.00l1.95 -19.31l3.36 6.12l0.27 13.20l0.21 0.00l0.03 -0.20l1.50 -15.04l0.24 15.24l0.24 -0.01l1.92 -19.34l2.49 4.53l0.27 14.82l0.21 0.00l0.03 -0.26l1.59 -16.03l0.24 16.10l0.03 0.19l0.21 0.00l1.92 -19.33l2.58 4.67l0.27 14.66l0.21 0.00l0.03 -0.12l1.89 -19.05l0.27 19.17l0.21 0.00l0.03 -0.14l1.92 -19.18l2.37 4.31l0.27 15.01l0.21 0.00l0.03 -0.19l1.59 -16.02l0.24 15.48l0.03 0.73l0.21 0.00l1.95 -19.31l2.97 5.41l0.27 13.91l0.21 0.00l0.03 -0.26l1.77 -17.84l0.27 18.09l0.24 -0.08l1.92 -19.26l3.06 5.57l0.27 13.76l0.24 -0.03l1.50 -15.11l0.27 15.14l0.21 0.00l1.95 -19.32l3.06 5.57l0.27 13.75l0.24 -0.09l1.50 -15.11l0.24 14.56l0.03 0.65l0.21 0.00l1.95 -19.31l3.06 5.57l0.27 13.74l0.21 0.00l0.03 -0.16l1.80 -18.14l0.24 18.16l0.03 0.14l0.21 0.00l1.92 -19.33l3.48 6.31l0.27 13.01l0.21 0.00l0.03 -0.14l1.50 -15.11l0.24 14.92l0.03 0.34l0.21 0.00l1.92 -19.30l1.68 3.00l0.27 16.30l0.24 -0.09l1.59 -16.02l0.27 16.11l0.21 0.00l0.03 -0.11l1.92 -19.21l2.67 4.86l0.27 14.47l0.21 0.00l0.03 -0.16l1.50 -15.11l0.24 15.09l0.03 0.18l0.21 0.00l1.92 -19.32l3.09 5.59l0.27 13.73l0.21 0.00l0.03 -0.23l1.50 -14.84l0.24 15.06l0.24 -0.04l1.92 -19.29l4.08 7.43l0.27 11.91l0.21 0.00l0.03 -0.20l1.92 -19.10l0.27 0.49l0.27 18.82l0.21 0.00l0.03 -0.23l1.92 -19.07l2.55 4.64l0.27 14.66l0.24 -0.07l1.71 -17.23l0.24 17.24l0.24 0.06l1.92 -19.34l2.49 4.52l0.27 14.81l0.21 0.00l0.03 -0.24l1.89 -19.04l0.27 19.28l0.21 0.00l0.03 -0.26l1.89 -19.04l3.39 6.12l0.27 13.18l0.21 0.00l0.03 -0.21l1.80 -17.89l0.24 18.10l0.24 -0.03l1.92 -19.31l2.28 4.15l0.27 15.19l0.21 0.00l0.03 -0.18l1.92 -19.14l0.33 19.31l0.24 -0.10l1.92 -19.23l2.58 4.70l0.27 14.63l0.21 0.00l0.03 -0.24l1.89 -19.04l0.30 0.48l0.27 18.81l0.21 0.00l0.03 -0.27l1.89 -19.04l2.70 4.96l0.24 14.35l0.24 -0.01l1.92 -19.33l0.09 0.16l0.27 19.18l0.21 0.00l0.03 -0.24l1.89 -19.04l2.79 5.00l0.27 14.28l0.21 0.00l0.03 -0.19l1.92 -19.13l0.48 0.95l0.24 18.36l0.24 -0.01l1.92 -19.33l1.68 3.06l0.27 16.28l0.21 0.00l0.03 -0.15l1.53 -15.41"/>
</g></g>
<g filter="url(#bl)">
<rect x="28.00" y="28.30" width="330.30" height="40.85" fill="none" stroke="#000" stroke-width="0.60"/>
<rect x="28.00" y="85.60" width="330.30" height="40.85" fill="none" stroke="#000" stroke-width="0.60"/>
<rect x="28.00" y="142.60" width="330.30" height="40.85" fill="none" stroke="#000" stroke-width="0.60"/>
<rect x="28.00" y="200.15" width="330.30" height="40.85" fill="none" stroke="#000" stroke-width="0.60"/>
<rect x="28.00" y="257.25" width="330.30" height="40.85" fill="none" stroke="#000" stroke-width="0.60"/>
<rect x="28.00" y="314.40" width="330.30" height="40.85" fill="none" stroke="#000" stroke-width="0.60"/>
<rect x="28.00" y="371.45" width="330.30" height="40.85" fill="none" stroke="#000" stroke-width="0.60"/>
<rect x="28.00" y="428.45" width="330.30" height="40.85" fill="none" stroke="#000" stroke-width="0.60"/>
<rect x="28.00" y="485.50" width="330.30" height="40.85" fill="none" stroke="#000" stroke-width="0.60"/>
</g>
<path stroke="#000" stroke-width="0.60" fill="none" filter="url(#bl)" d="M26.22 30.40h1.78M26.22 41.17h1.78M26.22 51.93h1.78M26.22 62.70h1.78M43.01 69.15v1.78M103.07 69.15v1.78M163.12 69.15v1.78M223.18 69.15v1.78M283.23 69.15v1.78M343.29 69.15v1.78M26.22 94.50h1.78M26.22 104.90h1.78M26.22 115.30h1.78M26.22 125.70h1.78M43.01 126.45v1.78M103.07 126.45v1.78M163.12 126.45v1.78M223.18 126.45v1.78M283.23 126.45v1.78M343.29 126.45v1.78M26.22 151.30h1.78M26.22 162.45h1.78M26.22 173.60h1.78M43.01 183.45v1.78M103.07 183.45v1.78M163.12 183.45v1.78M223.18 183.45v1.78M283.23 183.45v1.78M343.29 183.45v1.78M26.22 205.90h1.78M26.22 216.40h1.78M26.22 226.90h1.78M26.22 237.40h1.78M43.01 241.00v1.78M103.07 241.00v1.78M163.12 241.00v1.78M223.18 241.00v1.78M283.23 241.00v1.78M343.29 241.00v1.78M26.22 274.90h1.78M26.22 293.90h1.78M43.01 298.10v1.78M103.07 298.10v1.78M163.12 298.10v1.78M223.18 298.10v1.78M283.23 298.10v1.78M343.29 298.10v1.78M26.22 318.90h1.78M26.22 331.03h1.78M26.22 343.17h1.78M26.22 355.30h1.78M43.01 355.25v1.78M103.07 355.25v1.78M163.12 355.25v1.78M223.18 355.25v1.78M283.23 355.25v1.78M343.29 355.25v1.78M26.22 380.50h1.78M26.22 393.20h1.78M26.22 405.90h1.78M43.01 412.30v1.78M103.07 412.30v1.78M163.12 412.30v1.78M223.18 412.30v1.78M283.23 412.30v1.78M343.29 412.30v1.78M26.22 441.30h1.78M26.22 455.25h1.78M26.22 469.20h1.78M43.01 469.30v1.78M103.07 469.30v1.78M163.12 469.30v1.78M223.18 469.30v1.78M283.23 469.30v1.78M343.29 469.30v1.78M26.22 491.10h1.78M26.22 506.70h1.78M26.22 522.30h1.78M43.01 526.35v1.78M103.07 526.35v1.78M163.12 526.35v1.78M223.18 526.35v1.78M283.23 526.35v1.78M343.29 526.35v1.78"/>
<g font-family='"Liberation Sans", sans-serif' font-size="5.40" fill="#000" stroke="#000" stroke-width="0.18" style="filter:grayscale(1)">
<text x="24.44" y="32.48" text-anchor="end" textLength="6.46" lengthAdjust="spacingAndGlyphs">25</text>
<text x="24.44" y="43.25" text-anchor="end" textLength="3.23" lengthAdjust="spacingAndGlyphs">0</text>
<text x="24.44" y="54.02" text-anchor="end" textLength="10.72" lengthAdjust="spacingAndGlyphs">−25</text>
<text x="24.44" y="64.78" text-anchor="end" textLength="10.72" lengthAdjust="spacingAndGlyphs">−50</text>
<text x="43.01" y="77.32" text-anchor="middle" textLength="3.23" lengthAdjust="spacingAndGlyphs">0</text>
<text x="103.07" y="77.32" text-anchor="middle" textLength="9.69" lengthAdjust="spacingAndGlyphs">100</text>
<text x="163.12" y="77.32" text-anchor="middle" textLength="9.69" lengthAdjust="spacingAndGlyphs">200</text>
<text x="223.18" y="77.32" text-anchor="middle" textLength="9.69" lengthAdjust="spacingAndGlyphs">300</text>
<text x="283.23" y="77.32" text-anchor="middle" textLength="9.69" lengthAdjust="spacingAndGlyphs">400</text>
<text x="343.29" y="77.32" text-anchor="middle" textLength="9.69" lengthAdjust="spacingAndGlyphs">500</text>
<text x="24.44" y="96.58" text-anchor="end" textLength="11.31" lengthAdjust="spacingAndGlyphs">0.75</text>
<text x="24.44" y="106.98" text-anchor="end" textLength="11.31" lengthAdjust="spacingAndGlyphs">0.50</text>
<text x="24.44" y="117.38" text-anchor="end" textLength="11.31" lengthAdjust="spacingAndGlyphs">0.25</text>
<text x="24.44" y="127.78" text-anchor="end" textLength="11.31" lengthAdjust="spacingAndGlyphs">0.00</text>
<text x="43.01" y="134.62" text-anchor="middle" textLength="3.23" lengthAdjust="spacingAndGlyphs">0</text>
<text x="103.07" y="134.62" text-anchor="middle" textLength="9.69" lengthAdjust="spacingAndGlyphs">100</text>
<text x="163.12" y="134.62" text-anchor="middle" textLength="9.69" lengthAdjust="spacingAndGlyphs">200</text>
<text x="223.18" y="134.62" text-anchor="middle" textLength="9.69" lengthAdjust="spacingAndGlyphs">300</text>
<text x="283.23" y="134.62" text-anchor="middle" textLength="9.69" lengthAdjust="spacingAndGlyphs">400</text>
<text x="343.29" y="134.62" text-anchor="middle" textLength="9.69" lengthAdjust="spacingAndGlyphs">500</text>
<text x="24.44" y="153.38" text-anchor="end" textLength="11.31" lengthAdjust="spacingAndGlyphs">0.75</text>
<text x="24.44" y="164.53" text-anchor="end" textLength="11.31" lengthAdjust="spacingAndGlyphs">0.50</text>
<text x="24.44" y="175.68" text-anchor="end" textLength="11.31" lengthAdjust="spacingAndGlyphs">0.25</text>
<text x="43.01" y="191.62" text-anchor="middle" textLength="3.23" lengthAdjust="spacingAndGlyphs">0</text>
<text x="103.07" y="191.62" text-anchor="middle" textLength="9.69" lengthAdjust="spacingAndGlyphs">100</text>
<text x="163.12" y="191.62" text-anchor="middle" textLength="9.69" lengthAdjust="spacingAndGlyphs">200</text>
<text x="223.18" y="191.62" text-anchor="middle" textLength="9.69" lengthAdjust="spacingAndGlyphs">300</text>
<text x="283.23" y="191.62" text-anchor="middle" textLength="9.69" lengthAdjust="spacingAndGlyphs">400</text>
<text x="343.29" y="191.62" text-anchor="middle" textLength="9.69" lengthAdjust="spacingAndGlyphs">500</text>
<text x="24.44" y="207.98" text-anchor="end" textLength="8.08" lengthAdjust="spacingAndGlyphs">3.0</text>
<text x="24.44" y="218.48" text-anchor="end" textLength="8.08" lengthAdjust="spacingAndGlyphs">2.5</text>
<text x="24.44" y="228.98" text-anchor="end" textLength="8.08" lengthAdjust="spacingAndGlyphs">2.0</text>
<text x="24.44" y="239.48" text-anchor="end" textLength="8.08" lengthAdjust="spacingAndGlyphs">1.5</text>
<text x="43.01" y="249.17" text-anchor="middle" textLength="3.23" lengthAdjust="spacingAndGlyphs">0</text>
<text x="103.07" y="249.17" text-anchor="middle" textLength="9.69" lengthAdjust="spacingAndGlyphs">100</text>
<text x="163.12" y="249.17" text-anchor="middle" textLength="9.69" lengthAdjust="spacingAndGlyphs">200</text>
<text x="223.18" y="249.17" text-anchor="middle" textLength="9.69" lengthAdjust="spacingAndGlyphs">300</text>
<text x="283.23" y="249.17" text-anchor="middle" textLength="9.69" lengthAdjust="spacingAndGlyphs">400</text>
<text x="343.29" y="249.17" text-anchor="middle" textLength="9.69" lengthAdjust="spacingAndGlyphs">500</text>
<text x="28.10" y="199.25" textLength="14.40" lengthAdjust="spacingAndGlyphs">1e−2</text>
<text x="24.44" y="276.98" text-anchor="end" textLength="8.08" lengthAdjust="spacingAndGlyphs">1.0</text>
<text x="24.44" y="295.98" text-anchor="end" textLength="8.08" lengthAdjust="spacingAndGlyphs">0.8</text>
<text x="43.01" y="306.27" text-anchor="middle" textLength="3.23" lengthAdjust="spacingAndGlyphs">0</text>
<text x="103.07" y="306.27" text-anchor="middle" textLength="9.69" lengthAdjust="spacingAndGlyphs">100</text>
<text x="163.12" y="306.27" text-anchor="middle" textLength="9.69" lengthAdjust="spacingAndGlyphs">200</text>
<text x="223.18" y="306.27" text-anchor="middle" textLength="9.69" lengthAdjust="spacingAndGlyphs">300</text>
<text x="283.23" y="306.27" text-anchor="middle" textLength="9.69" lengthAdjust="spacingAndGlyphs">400</text>
<text x="343.29" y="306.27" text-anchor="middle" textLength="9.69" lengthAdjust="spacingAndGlyphs">500</text>
<text x="28.10" y="256.35" textLength="14.40" lengthAdjust="spacingAndGlyphs">1e−1</text>
<text x="24.44" y="320.98" text-anchor="end" textLength="3.23" lengthAdjust="spacingAndGlyphs">3</text>
<text x="24.44" y="333.12" text-anchor="end" textLength="3.23" lengthAdjust="spacingAndGlyphs">2</text>
<text x="24.44" y="345.25" text-anchor="end" textLength="3.23" lengthAdjust="spacingAndGlyphs">1</text>
<text x="24.44" y="357.38" text-anchor="end" textLength="3.23" lengthAdjust="spacingAndGlyphs">0</text>
<text x="43.01" y="363.42" text-anchor="middle" textLength="3.23" lengthAdjust="spacingAndGlyphs">0</text>
<text x="103.07" y="363.42" text-anchor="middle" textLength="9.69" lengthAdjust="spacingAndGlyphs">100</text>
<text x="163.12" y="363.42" text-anchor="middle" textLength="9.69" lengthAdjust="spacingAndGlyphs">200</text>
<text x="223.18" y="363.42" text-anchor="middle" textLength="9.69" lengthAdjust="spacingAndGlyphs">300</text>
<text x="283.23" y="363.42" text-anchor="middle" textLength="9.69" lengthAdjust="spacingAndGlyphs">400</text>
<text x="343.29" y="363.42" text-anchor="middle" textLength="9.69" lengthAdjust="spacingAndGlyphs">500</text>
<text x="28.10" y="313.50" textLength="14.40" lengthAdjust="spacingAndGlyphs">1e−1</text>
<text x="24.44" y="382.58" text-anchor="end" textLength="3.23" lengthAdjust="spacingAndGlyphs">3</text>
<text x="24.44" y="395.28" text-anchor="end" textLength="3.23" lengthAdjust="spacingAndGlyphs">2</text>
<text x="24.44" y="407.98" text-anchor="end" textLength="3.23" lengthAdjust="spacingAndGlyphs">1</text>
<text x="43.01" y="420.47" text-anchor="middle" textLength="3.23" lengthAdjust="spacingAndGlyphs">0</text>
<text x="103.07" y="420.47" text-anchor="middle" textLength="9.69" lengthAdjust="spacingAndGlyphs">100</text>
<text x="163.12" y="420.47" text-anchor="middle" textLength="9.69" lengthAdjust="spacingAndGlyphs">200</text>
<text x="223.18" y="420.47" text-anchor="middle" textLength="9.69" lengthAdjust="spacingAndGlyphs">300</text>
<text x="283.23" y="420.47" text-anchor="middle" textLength="9.69" lengthAdjust="spacingAndGlyphs">400</text>
<text x="343.29" y="420.47" text-anchor="middle" textLength="9.69" lengthAdjust="spacingAndGlyphs">500</text>
<text x="28.10" y="370.55" textLength="14.40" lengthAdjust="spacingAndGlyphs">1e−1</text>
<text x="24.44" y="443.38" text-anchor="end" textLength="3.23" lengthAdjust="spacingAndGlyphs">2</text>
<text x="24.44" y="457.33" text-anchor="end" textLength="3.23" lengthAdjust="spacingAndGlyphs">1</text>
<text x="24.44" y="471.28" text-anchor="end" textLength="3.23" lengthAdjust="spacingAndGlyphs">0</text>
<text x="43.01" y="477.47" text-anchor="middle" textLength="3.23" lengthAdjust="spacingAndGlyphs">0</text>
<text x="103.07" y="477.47" text-anchor="middle" textLength="9.69" lengthAdjust="spacingAndGlyphs">100</text>
<text x="163.12" y="477.47" text-anchor="middle" textLength="9.69" lengthAdjust="spacingAndGlyphs">200</text>
<text x="223.18" y="477.47" text-anchor="middle" textLength="9.69" lengthAdjust="spacingAndGlyphs">300</text>
<text x="283.23" y="477.47" text-anchor="middle" textLength="9.69" lengthAdjust="spacingAndGlyphs">400</text>
<text x="343.29" y="477.47" text-anchor="middle" textLength="9.69" lengthAdjust="spacingAndGlyphs">500</text>
<text x="28.10" y="427.55" textLength="14.40" lengthAdjust="spacingAndGlyphs">1e−1</text>
<text x="24.44" y="493.18" text-anchor="end" textLength="8.08" lengthAdjust="spacingAndGlyphs">2.0</text>
<text x="24.44" y="508.78" text-anchor="end" textLength="8.08" lengthAdjust="spacingAndGlyphs">1.5</text>
<text x="24.44" y="524.38" text-anchor="end" textLength="8.08" lengthAdjust="spacingAndGlyphs">1.0</text>
<text x="43.01" y="534.52" text-anchor="middle" textLength="3.23" lengthAdjust="spacingAndGlyphs">0</text>
<text x="103.07" y="534.52" text-anchor="middle" textLength="9.69" lengthAdjust="spacingAndGlyphs">100</text>
<text x="163.12" y="534.52" text-anchor="middle" textLength="9.69" lengthAdjust="spacingAndGlyphs">200</text>
<text x="223.18" y="534.52" text-anchor="middle" textLength="9.69" lengthAdjust="spacingAndGlyphs">300</text>
<text x="283.23" y="534.52" text-anchor="middle" textLength="9.69" lengthAdjust="spacingAndGlyphs">400</text>
<text x="343.29" y="534.52" text-anchor="middle" textLength="9.69" lengthAdjust="spacingAndGlyphs">500</text>
<text x="28.10" y="484.60" textLength="14.40" lengthAdjust="spacingAndGlyphs">1e−4</text>
</g>
<g font-family='"Liberation Sans", sans-serif' font-size="5.40" fill="#000" stroke="#000" stroke-width="0.18" style="filter:grayscale(1)">
<text transform="translate(9.70 48.73) rotate(-90)" x="0" y="1.60" text-anchor="middle" textLength="32.60" lengthAdjust="spacingAndGlyphs">Voltage (mV)</text>
<text transform="translate(9.25 106.02) rotate(-90)" x="0" y="1.20" text-anchor="middle" textLength="7.50" lengthAdjust="spacingAndGlyphs"><tspan font-style="italic">h</tspan><tspan font-style="italic" font-size="3.89" dy="0.9">Na</tspan></text>
<text transform="translate(9.10 163.02) rotate(-90)" x="0" y="1.20" text-anchor="middle" textLength="8.60" lengthAdjust="spacingAndGlyphs"><tspan font-style="italic">n</tspan><tspan font-style="italic" font-size="3.89" dy="0.9">Na</tspan></text>
<text transform="translate(13.10 220.57) rotate(-90)" x="0" y="1.20" text-anchor="middle" textLength="8.40" lengthAdjust="spacingAndGlyphs"><tspan font-style="italic">b</tspan><tspan font-style="italic" font-size="3.89" dy="0.9">Na</tspan></text>
<text transform="translate(12.90 277.68) rotate(-90)" x="0" y="1.20" text-anchor="middle" textLength="5.40" lengthAdjust="spacingAndGlyphs"><tspan font-style="italic">z</tspan><tspan font-style="italic" font-size="3.89" dy="0.9">K</tspan></text>
<text transform="translate(17.40 334.82) rotate(-90)" x="0" y="1.20" text-anchor="middle" textLength="7.00" lengthAdjust="spacingAndGlyphs"><tspan font-style="italic">r</tspan><tspan font-style="italic" font-size="3.89" dy="0.9">Ca</tspan></text>
<text transform="translate(16.90 391.88) rotate(-90)" x="0" y="1.60" text-anchor="middle" textLength="11.40" lengthAdjust="spacingAndGlyphs">[Ca]</text>
<text transform="translate(17.80 448.88) rotate(-90)" x="0" y="1.20" text-anchor="middle" textLength="7.00" lengthAdjust="spacingAndGlyphs"><tspan font-style="italic">c</tspan><tspan font-style="italic" font-size="3.89" dy="0.9">Ca</tspan></text>
<text transform="translate(12.50 505.93) rotate(-90)" x="0" y="1.20" text-anchor="middle" textLength="11.80" lengthAdjust="spacingAndGlyphs"><tspan font-style="italic">q</tspan><tspan font-style="italic" font-size="3.89" dy="0.9">ahp</tspan></text>
</g>
<text x="193.15" y="541.1" text-anchor="middle" font-family='"Liberation Sans", sans-serif' font-size="5.40" textLength="25.4" lengthAdjust="spacingAndGlyphs" stroke="#000" stroke-width="0.18" style="filter:grayscale(1)">Time (ms)</text>
<rect x="303.9" y="7.5" width="54.5" height="16.2" rx="0.8" fill="#fff" fill-opacity="0.8" stroke="#ccc" stroke-width="0.4"/>
<path stroke="#0000ff" stroke-width="1.15" d="M305.6 11.3H317"/>
<path stroke="#ff0000" stroke-width="1.15" stroke-dasharray="2.82 1.22" d="M305.6 18.7H317"/>
<g font-family='"Liberation Sans", sans-serif' font-size="5.40" fill="#000" stroke="#000" stroke-width="0.18" style="filter:grayscale(1)">
<text x="320.8" y="13.9" textLength="24.3" lengthAdjust="spacingAndGlyphs">HH Model</text>
<text x="320.8" y="21.1" textLength="35.8" lengthAdjust="spacingAndGlyphs">LSTM Network</text>
</g>
</svg>
</body></html>
